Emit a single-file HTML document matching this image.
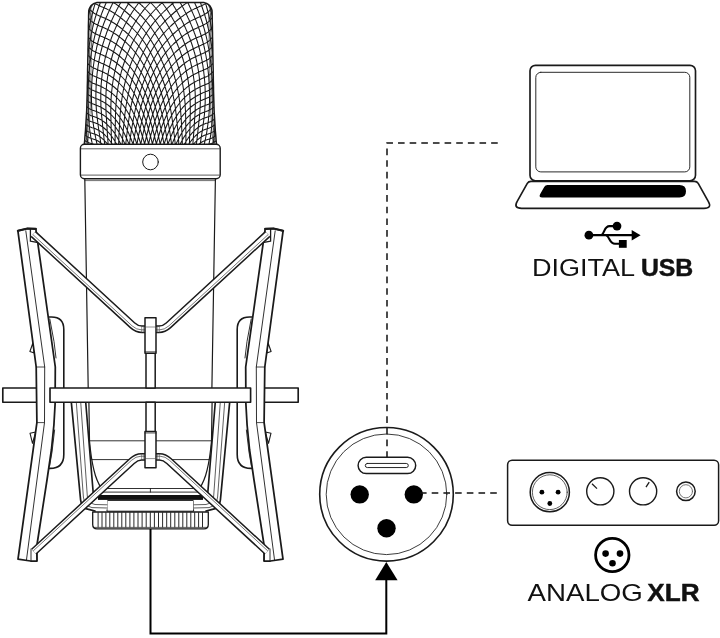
<!DOCTYPE html>
<html><head><meta charset="utf-8"><title>Mic connection diagram</title>
<style>html,body{margin:0;padding:0;background:#fff}body{width:720px;height:638px;overflow:hidden;font-family:"Liberation Sans",sans-serif}svg{display:block}</style></head><body>
<svg width="720" height="638" viewBox="0 0 720 638" fill="none" stroke="#1a1a1a" stroke-linecap="round" stroke-linejoin="round">
<rect x="0" y="0" width="720" height="638" fill="#fff" stroke="none"/>
<defs><clipPath id="hc"><path d="M84.3 144.0 84.7 140.6 84.9 137.3 85.2 133.9 85.5 130.5 85.7 127.1 85.9 123.8 86.1 120.4 86.3 117.0 86.5 113.7 86.7 110.3 86.8 106.9 86.9 103.5 87.0 100.2 87.1 96.8 87.2 93.4 87.3 90.1 87.3 86.7 87.4 83.3 87.5 79.9 87.5 76.6 87.6 73.2 87.6 69.8 87.7 66.4 87.8 63.1 87.8 59.7 87.9 56.3 88.0 53.0 88.0 49.6 88.1 46.2 88.1 42.8 88.2 39.5 88.3 36.1 88.3 32.7 88.4 29.4 88.4 26.0 88.5 22.6 88.6 19.2 88.6 15.9 88.7 12.5 88.7 12.1 88.8 10.4 89.3 8.8 90.0 7.3 90.9 5.9 92.1 4.7 93.5 3.8 95.0 3.1 96.6 2.6 98.3 2.5 202.5 2.5 204.2 2.6 205.8 3.1 207.3 3.8 208.7 4.7 209.9 5.9 210.8 7.3 211.5 8.8 212.0 10.4 212.1 12.1 212.1 12.5 212.2 15.9 212.2 19.2 212.3 22.6 212.4 26.0 212.4 29.4 212.5 32.7 212.5 36.1 212.6 39.5 212.7 42.8 212.7 46.2 212.8 49.6 212.8 53.0 212.9 56.3 213.0 59.7 213.0 63.1 213.1 66.4 213.2 69.8 213.2 73.2 213.3 76.6 213.3 79.9 213.4 83.3 213.5 86.7 213.5 90.1 213.6 93.4 213.7 96.8 213.8 100.2 213.9 103.5 214.0 106.9 214.1 110.3 214.3 113.7 214.5 117.0 214.7 120.4 214.9 123.8 215.1 127.1 215.3 130.5 215.6 133.9 215.9 137.3 216.1 140.6 216.5 144.0Z"/></clipPath></defs>
<g clip-path="url(#hc)"><path d="M87.3 7.5 87.6 6.0 88.0 4.3 88.4 2.5 88.7 1.0M87.0 23.4 87.4 21.5 87.7 20.0 88.0 18.4 88.4 16.5 88.7 15.0 89.0 13.5 89.5 11.5 89.8 10.0 90.1 8.5 90.5 7.0 91.0 5.0 91.3 3.5 91.7 2.0 92.0 0.8M86.7 42.0 87.0 40.1 87.3 38.5 87.5 37.0 87.9 35.0 88.1 33.5 88.5 31.6 88.8 30.0 89.1 28.5 89.5 26.5 89.8 25.0 90.1 23.5 90.5 21.5 90.8 20.0 91.2 18.5 91.5 17.0 92.0 15.0 92.4 13.5 92.7 12.0 93.1 10.5 93.5 9.0 94.0 7.4 94.5 5.7 95.0 4.0 95.5 2.5 96.0 1.0 96.0 0.9M84.5 145.3 84.7 143.5 84.4 142.0 84.2 140.0 84.0 138.4 83.8 136.5 83.6 135.0M87.9 145.0 88.0 143.5 87.7 142.0 87.5 140.5 87.2 138.5 87.0 136.8 86.8 135.0 86.6 133.0 86.4 131.5 86.3 129.5 86.1 127.5 86.0 126.0 85.8 124.0 85.7 122.0 85.6 120.0 85.5 118.5 85.4 116.5 85.3 114.5 85.2 112.5 85.1 110.5 85.0 108.5 85.0 106.5 85.0 105.0 85.0 103.0 84.9 101.0 84.9 99.0 84.9 97.0 85.0 95.0 85.0 93.0 85.0 91.5 85.1 89.5 85.1 87.5 85.2 85.5 85.3 83.5 85.4 81.5 85.5 79.5 85.6 78.0 85.7 76.0 85.9 74.0 86.0 72.3 86.2 70.5 86.3 68.5 86.5 66.7 86.7 65.0 86.9 63.0 87.1 61.5 87.3 59.5 87.5 57.7 87.7 56.0 88.0 54.0 88.2 52.5 88.5 50.5 88.7 49.0 89.0 47.0 89.2 45.5 89.5 43.7 89.8 42.0 90.1 40.5 90.4 38.5 90.7 37.0 91.0 35.4 91.4 33.5 91.7 32.0 92.0 30.5 92.5 28.5 92.8 27.0 93.2 25.5 93.5 24.0 94.0 22.2 94.5 20.5 94.9 19.0 95.3 17.5 95.8 16.0 96.2 14.5 96.7 13.0 97.2 11.5 97.7 10.0 98.2 8.5 98.7 7.0 99.3 5.5 99.8 4.0 100.4 2.5 101.0 1.0 101.0 0.9M92.2 145.0 92.1 143.0 91.8 141.5 91.4 140.0 91.0 138.0 90.7 136.5 90.5 135.0 90.2 133.0 90.0 131.5 89.7 129.5 89.5 127.7 89.3 126.0 89.1 124.0 89.0 122.4 88.8 120.5 88.7 118.5 88.5 116.5 88.4 115.0 88.3 113.0 88.2 111.0 88.2 109.0 88.1 107.0 88.1 105.0 88.0 103.0 88.0 101.0 88.0 99.0 88.0 97.0 88.0 95.0 88.1 93.0 88.1 91.0 88.1 89.0 88.2 87.0 88.3 85.0 88.4 83.0 88.5 81.0 88.6 79.5 88.7 77.5 88.8 75.5 89.0 73.5 89.1 72.0 89.3 70.0 89.5 68.0 89.6 66.5 89.9 64.5 90.0 63.0 90.3 61.0 90.5 59.3 90.7 57.5 91.0 55.7 91.2 54.0 91.5 52.4 91.8 50.5 92.1 49.0 92.4 47.0 92.7 45.5 93.0 44.0 93.4 42.0 93.7 40.5 94.1 39.0 94.5 37.1 94.9 35.5 95.3 34.0 95.7 32.5 96.1 31.0 96.5 29.4 97.0 27.7 97.5 26.0 97.9 24.5 98.4 23.0 98.9 21.5 99.4 20.0 99.9 18.5 100.4 17.0 101.0 15.5 101.5 14.1 102.0 12.8 102.5 11.5 103.1 10.0 103.7 8.5 104.4 7.0 105.0 5.5 105.5 4.3 106.1 3.0 106.8 1.5 107.0 1.0M96.8 145.0 97.0 143.9 96.5 142.0 96.2 140.5 95.9 139.0 95.5 137.2 95.2 135.5 94.9 134.0 94.5 132.0 94.3 130.5 94.0 128.9 93.7 127.0 93.5 125.5 93.2 123.5 93.0 121.8 92.8 120.0 92.5 118.0 92.4 116.5 92.2 114.5 92.0 112.5 91.9 111.0 91.8 109.0 91.7 107.0 91.6 105.0 91.6 103.0 91.5 101.0 91.5 99.4 91.5 97.5 91.5 95.5 91.5 94.0 91.5 92.0 91.6 90.0 91.6 88.0 91.7 86.0 91.8 84.0 91.9 82.0 92.0 80.5 92.1 78.5 92.3 76.5 92.5 74.5 92.6 73.0 92.8 71.0 93.0 69.5 93.2 67.5 93.5 65.5 93.7 64.0 94.0 62.0 94.2 60.5 94.5 58.8 94.8 57.0 95.1 55.5 95.4 53.5 95.7 52.0 96.1 50.5 96.5 48.5 96.8 47.0 97.2 45.5 97.5 44.0 98.0 42.0 98.4 40.5 98.8 39.0 99.2 37.5 99.6 36.0 100.1 34.5 100.6 33.0 101.0 31.5 101.5 30.0 102.0 28.5 102.5 27.0 103.1 25.5 103.6 24.0 104.2 22.5 104.8 21.0 105.4 19.5 106.0 18.0 106.5 16.8 107.1 15.5 107.7 14.0 108.4 12.5 109.0 11.1 109.5 10.0 110.2 8.5 110.9 7.0 111.5 5.8 112.1 4.5 112.9 3.0 113.5 1.8 114.0 0.8M100.8 145.0 101.0 143.8 100.6 142.0 100.4 140.5 100.1 138.5 99.9 137.0 99.6 135.0 99.3 133.5 99.0 131.5 98.8 130.0 98.5 128.0 98.3 126.5 98.0 124.5 97.9 123.0 97.6 121.0 97.4 119.5 97.1 117.5 97.0 116.0 96.8 114.0 96.6 112.0 96.5 110.5 96.3 108.5 96.2 106.5 96.1 104.5 96.0 102.5 96.0 101.0 95.9 99.0 95.9 97.0 95.9 95.0 95.9 93.0 96.0 91.0 96.0 89.3 96.1 87.5 96.1 85.5 96.3 83.5 96.4 81.5 96.5 79.9 96.7 78.0 96.9 76.0 97.0 74.5 97.2 72.5 97.5 70.5 97.7 69.0 98.0 67.0 98.2 65.5 98.5 63.6 98.8 62.0 99.0 60.5 99.4 58.5 99.7 57.0 100.0 55.5 100.5 53.5 100.8 52.0 101.2 50.5 101.6 49.0 102.0 47.4 102.5 45.6 102.9 44.0 103.4 42.5 103.9 41.0 104.3 39.5 104.8 38.0 105.3 36.5 105.9 35.0 106.4 33.5 106.9 32.0 107.5 30.5 108.0 29.2 108.5 28.0 109.1 26.5 109.7 25.0 110.4 23.5 111.0 22.0 111.5 20.9 112.1 19.5 112.8 18.0 113.5 16.5 114.0 15.4 114.7 14.0 115.4 12.5 116.0 11.4 116.7 10.0 117.5 8.5 118.0 7.5 118.8 6.0 119.5 4.7 120.2 3.5 121.0 2.0 121.5 1.0M104.5 145.0 104.6 143.5 104.4 142.0 104.2 140.0 104.0 138.5 103.8 136.5 103.6 134.5 103.4 133.0 103.2 131.0 103.0 129.3 102.8 127.5 102.6 125.5 102.5 124.0 102.3 122.0 102.1 120.0 101.9 118.5 101.7 116.5 101.5 114.5 101.4 113.0 101.3 111.0 101.1 109.0 101.0 107.0 100.9 105.5 100.9 103.5 100.8 101.5 100.8 99.5 100.8 97.5 100.8 95.5 100.8 93.5 100.8 91.5 100.9 89.5 101.0 87.7 101.1 86.0 101.2 84.0 101.4 82.0 101.5 80.5 101.7 78.5 102.0 76.5 102.1 75.0 102.4 73.0 102.6 71.5 102.9 69.5 103.2 68.0 103.5 66.2 103.8 64.5 104.1 63.0 104.5 61.3 104.9 59.5 105.2 58.0 105.6 56.5 106.0 55.0 106.5 53.1 107.0 51.5 107.4 50.0 107.8 48.5 108.3 47.0 108.8 45.5 109.3 44.0 109.8 42.5 110.3 41.0 110.9 39.5 111.4 38.0 112.0 36.5 112.5 35.2 113.0 34.0 113.6 32.5 114.2 31.0 114.9 29.5 115.5 28.1 116.0 27.0 116.7 25.5 117.4 24.0 118.0 22.7 118.6 21.5 119.3 20.0 120.0 18.6 120.6 17.5 121.4 16.0 122.0 14.8 122.7 13.5 123.5 12.1 124.1 11.0 125.0 9.5 125.6 8.5 126.5 7.0 127.1 6.0 128.0 4.5 128.6 3.5 129.5 2.0 130.2 1.0M108.0 145.1 108.1 143.5 108.0 142.0 107.8 140.0 107.7 138.0 107.6 136.0 107.4 134.5 107.3 132.5 107.2 130.5 107.1 128.5 107.0 127.0 106.8 125.0 106.7 123.0 106.6 121.0 106.5 119.5 106.4 117.5 106.2 115.5 106.1 113.5 106.0 111.5 106.0 110.0 105.9 108.0 105.9 106.0 105.8 104.0 105.8 102.0 105.8 100.0 105.9 98.0 105.9 96.0 106.0 94.0 106.0 92.5 106.2 90.5 106.3 88.5 106.5 86.5 106.6 85.0 106.8 83.0 107.0 81.5 107.3 79.5 107.5 77.7 107.8 76.0 108.0 74.5 108.3 72.5 108.6 71.0 109.0 69.1 109.3 67.5 109.7 66.0 110.0 64.5 110.5 62.5 110.9 61.0 111.3 59.5 111.7 58.0 112.1 56.5 112.5 55.0 113.0 53.5 113.5 51.9 114.0 50.4 114.5 48.9 115.0 47.5 115.5 46.0 116.1 44.5 116.7 43.0 117.2 41.5 117.8 40.0 118.5 38.5 119.0 37.3 119.5 36.0 120.2 34.5 120.9 33.0 121.5 31.7 122.1 30.5 122.8 29.0 123.5 27.6 124.1 26.5 124.8 25.0 125.5 23.8 126.2 22.5 127.0 21.0 127.6 20.0 128.4 18.5 129.0 17.5 129.9 16.0 130.5 15.0 131.4 13.5 132.0 12.5 133.0 11.0 133.7 10.0 134.5 8.7 135.3 7.5 136.0 6.5 137.0 5.2 137.8 4.0 138.6 3.0 139.5 1.8 140.5 0.6M111.5 145.1 111.6 143.5 111.5 141.5 111.5 140.0 111.4 138.0 111.3 136.0 111.3 134.0 111.2 132.0 111.2 130.0 111.1 128.0 111.1 126.0 111.1 124.0 111.0 122.0 111.0 120.5 110.9 118.5 110.9 116.5 110.8 114.5 110.8 112.5 110.8 110.5 110.8 108.5 110.9 106.5 110.9 104.5 111.0 102.5 111.0 101.0 111.1 99.0 111.2 97.0 111.4 95.0 111.5 93.4 111.7 91.5 111.9 89.5 112.1 88.0 112.3 86.0 112.5 84.5 112.8 82.5 113.0 81.0 113.4 79.0 113.6 77.5 114.0 75.6 114.3 74.0 114.6 72.5 115.0 70.9 115.4 69.0 115.8 67.5 116.2 66.0 116.6 64.5 117.0 63.0 117.5 61.4 118.0 59.7 118.5 58.2 119.0 56.6 119.5 55.2 120.0 53.7 120.5 52.3 121.0 51.0 121.6 49.5 122.2 48.0 122.8 46.5 123.4 45.0 124.0 43.6 124.5 42.5 125.2 41.0 125.8 39.5 126.5 38.1 127.0 37.0 127.8 35.5 128.5 34.1 129.1 33.0 129.9 31.5 130.5 30.3 131.2 29.0 132.0 27.6 132.6 26.5 133.5 25.0 134.1 24.0 135.0 22.5 135.6 21.5 136.5 20.1 137.2 19.0 138.0 17.8 138.9 16.5 139.6 15.5 140.5 14.2 141.4 13.0 142.2 12.0 143.0 10.9 144.0 9.6 144.9 8.5 145.8 7.5 146.7 6.5 147.6 5.5 148.5 4.5 149.5 3.5 150.5 2.5 151.5 1.5 152.5 0.6M115.0 145.0 115.1 143.5 115.1 141.5 115.1 139.5 115.1 137.5 115.1 135.5 115.1 133.5 115.2 131.5 115.2 129.5 115.2 127.5 115.3 125.5 115.3 123.5 115.4 121.5 115.4 119.5 115.4 117.5 115.5 115.5 115.5 114.0 115.6 112.0 115.7 110.0 115.8 108.0 115.9 106.0 116.0 104.5 116.2 102.5 116.3 100.5 116.5 98.7 116.7 97.0 116.9 95.0 117.1 93.5 117.4 91.5 117.6 90.0 117.9 88.0 118.1 86.5 118.5 84.5 118.8 83.0 119.1 81.5 119.5 79.5 119.8 78.0 120.2 76.5 120.5 75.0 121.0 73.2 121.4 71.5 121.9 70.0 122.3 68.5 122.7 67.0 123.2 65.5 123.7 64.0 124.2 62.5 124.7 61.0 125.2 59.5 125.8 58.0 126.4 56.5 126.9 55.0 127.5 53.6 128.0 52.4 128.6 51.0 129.3 49.5 129.9 48.0 130.5 46.8 131.1 45.5 131.8 44.0 132.5 42.6 133.0 41.5 133.8 40.0 134.5 38.7 135.1 37.5 136.0 36.0 136.5 35.0 137.4 33.5 138.0 32.4 138.9 31.0 139.5 29.9 140.4 28.5 141.0 27.5 142.0 26.0 142.7 25.0 143.5 23.8 144.4 22.5 145.1 21.5 146.0 20.3 146.9 19.0 147.7 18.0 148.5 17.0 149.5 15.8 150.5 14.6 151.5 13.5 152.4 12.5 153.3 11.5 154.2 10.5 155.1 9.5 156.1 8.5 157.1 7.5 158.1 6.5 159.1 5.5 160.2 4.5 161.2 3.5 162.3 2.5 163.3 1.5 164.0 0.9M118.5 145.0 118.7 143.5 118.7 141.5 118.8 139.5 118.9 137.5 118.9 135.5 119.0 134.0 119.1 132.0 119.2 130.0 119.3 128.0 119.5 126.0 119.6 124.5 119.7 122.5 119.8 120.5 119.9 118.5 120.0 117.0 120.1 115.0 120.3 113.0 120.5 111.0 120.6 109.5 120.8 107.5 121.0 105.7 121.2 104.0 121.4 102.0 121.7 100.5 121.9 98.5 122.2 97.0 122.5 95.0 122.8 93.5 123.0 92.0 123.4 90.0 123.7 88.5 124.0 87.0 124.5 85.0 124.8 83.5 125.2 82.0 125.6 80.5 126.0 78.9 126.5 77.1 126.9 75.5 127.4 74.0 127.9 72.5 128.3 71.0 128.8 69.5 129.4 68.0 129.9 66.5 130.4 65.0 131.0 63.5 131.5 62.2 132.0 60.9 132.6 59.5 133.2 58.0 133.9 56.5 134.5 55.0 135.0 53.9 135.7 52.5 136.4 51.0 137.0 49.7 137.6 48.5 138.4 47.0 139.0 45.7 139.7 44.5 140.5 43.0 141.0 42.0 141.9 40.5 142.5 39.4 143.3 38.0 144.0 36.8 144.8 35.5 145.5 34.4 146.4 33.0 147.0 32.0 148.0 30.5 148.7 29.5 149.5 28.4 150.5 27.0 151.2 26.0 152.0 24.9 153.0 23.6 153.9 22.5 154.7 21.5 155.6 20.5 156.5 19.4 157.5 18.3 158.5 17.2 159.5 16.1 160.5 15.1 161.5 14.0 162.5 13.0 163.5 12.0 164.5 11.0 165.5 10.1 166.5 9.1 167.5 8.2 168.5 7.2 169.5 6.3 170.5 5.4 171.5 4.5 172.7 3.5 173.8 2.5 175.0 1.5 176.0 0.6M122.0 145.2 122.2 143.5 122.3 141.5 122.5 139.5 122.6 138.0 122.8 136.0 122.9 134.0 123.1 132.5 123.2 130.5 123.4 128.5 123.6 127.0 123.8 125.0 124.0 123.1 124.1 121.5 124.3 119.5 124.5 117.9 124.7 116.0 124.9 114.0 125.1 112.5 125.4 110.5 125.6 109.0 125.9 107.0 126.1 105.5 126.5 103.5 126.7 102.0 127.0 100.4 127.4 98.5 127.7 97.0 128.0 95.4 128.4 93.5 128.8 92.0 129.1 90.5 129.5 89.0 130.0 87.0 130.4 85.5 130.8 84.0 131.3 82.5 131.7 81.0 132.2 79.5 132.7 78.0 133.2 76.5 133.7 75.0 134.2 73.5 134.7 72.0 135.3 70.5 135.9 69.0 136.5 67.5 137.0 66.1 137.5 64.9 138.1 63.5 138.7 62.0 139.4 60.5 140.0 59.2 140.6 58.0 141.3 56.5 142.0 55.0 142.5 54.0 143.2 52.5 144.0 51.0 144.5 50.0 145.3 48.5 146.0 47.3 146.7 46.0 147.5 44.6 148.1 43.5 149.0 42.0 149.6 41.0 150.5 39.5 151.2 38.5 152.0 37.2 152.8 36.0 153.5 35.0 154.5 33.6 155.3 32.5 156.1 31.5 157.0 30.3 158.0 29.1 158.9 28.0 159.7 27.0 160.6 26.0 161.5 25.0 162.5 23.9 163.5 22.8 164.5 21.7 165.5 20.7 166.5 19.7 167.5 18.7 168.5 17.8 169.5 16.8 170.5 15.9 171.5 15.0 172.6 14.0 173.7 13.0 174.8 12.0 176.0 11.0 177.0 10.2 178.0 9.3 179.0 8.5 180.3 7.5 181.5 6.6 182.5 5.9 183.7 5.0 185.0 4.1 186.0 3.4 187.4 2.5 188.5 1.8 189.9 1.0 190.5 0.7M125.7 145.0 125.9 143.0 126.0 141.5 126.3 139.5 126.5 137.5 126.7 136.0 126.9 134.0 127.1 132.5 127.3 130.5 127.5 129.0 127.8 127.0 128.0 125.5 128.3 123.5 128.5 121.9 128.8 120.0 129.0 118.3 129.3 116.5 129.5 115.0 129.8 113.0 130.1 111.5 130.4 109.5 130.7 108.0 131.0 106.5 131.4 104.5 131.7 103.0 132.1 101.5 132.5 99.7 132.9 98.0 133.3 96.5 133.7 95.0 134.1 93.5 134.5 91.9 135.0 90.1 135.5 88.5 135.9 87.0 136.4 85.5 136.9 84.0 137.4 82.5 137.9 81.0 138.4 79.5 139.0 78.0 139.5 76.6 140.0 75.3 140.5 74.0 141.1 72.5 141.7 71.0 142.3 69.5 143.0 68.0 143.5 66.8 144.1 65.5 144.7 64.0 145.4 62.5 146.0 61.3 146.6 60.0 147.4 58.5 148.0 57.2 148.6 56.0 149.4 54.5 150.0 53.3 150.7 52.0 151.5 50.6 152.1 49.5 153.0 48.0 153.6 47.0 154.5 45.6 155.2 44.5 156.0 43.4 156.9 42.0 157.7 41.0 158.5 39.8 159.5 38.5 160.3 37.5 161.1 36.5 162.0 35.4 163.0 34.2 164.0 33.1 165.0 32.0 165.9 31.0 166.8 30.0 167.8 29.0 168.8 28.0 169.8 27.0 170.8 26.0 171.9 25.0 173.0 24.0 174.0 23.1 175.0 22.2 176.0 21.3 177.0 20.5 178.2 19.5 179.5 18.5 180.5 17.7 181.5 16.9 182.8 16.0 184.0 15.1 185.0 14.4 186.4 13.5 187.5 12.8 188.7 12.0 190.0 11.2 191.3 10.5 192.5 9.9 194.0 9.1 195.4 8.5 196.5 8.0 198.0 7.3 199.5 6.6 200.8 6.0 202.0 5.4 203.5 4.7 204.8 4.0 206.0 3.3 207.0 2.5 208.2 1.5 209.0 0.7M129.3 145.0 129.6 143.5 129.8 141.5 130.0 140.0 130.3 138.0 130.5 136.5 130.8 134.5 131.0 133.0 131.3 131.0 131.6 129.5 131.9 127.5 132.2 126.0 132.5 124.2 132.8 122.5 133.1 121.0 133.4 119.0 133.7 117.5 134.0 115.9 134.4 114.0 134.7 112.5 135.0 111.0 135.4 109.0 135.8 107.5 136.2 106.0 136.5 104.5 137.0 102.6 137.4 101.0 137.8 99.5 138.3 98.0 138.7 96.5 139.1 95.0 139.6 93.5 140.1 92.0 140.6 90.5 141.1 89.0 141.6 87.5 142.1 86.0 142.6 84.5 143.2 83.0 143.7 81.5 144.3 80.0 144.9 78.5 145.5 77.0 146.0 75.8 146.5 74.5 147.2 73.0 147.8 71.5 148.5 70.0 149.0 68.8 149.6 67.5 150.3 66.0 151.0 64.5 151.5 63.5 152.3 62.0 153.0 60.6 153.6 59.5 154.4 58.0 155.0 57.0 155.9 55.5 156.5 54.5 157.4 53.0 158.1 52.0 159.0 50.6 159.8 49.5 160.5 48.5 161.5 47.1 162.4 46.0 163.2 45.0 164.0 44.0 165.0 42.7 166.0 41.6 167.0 40.5 167.9 39.5 168.8 38.5 169.8 37.5 170.7 36.5 171.7 35.5 172.8 34.5 173.9 33.5 175.0 32.5 176.0 31.6 177.0 30.7 178.0 29.9 179.1 29.0 180.3 28.0 181.5 27.1 182.5 26.4 183.7 25.5 185.0 24.6 186.0 23.9 187.4 23.0 188.5 22.3 189.9 21.5 191.0 20.9 192.5 20.1 193.7 19.5 195.0 18.9 196.5 18.2 198.0 17.5 199.2 17.0 200.5 16.4 202.0 15.7 203.4 15.0 204.5 14.4 206.0 13.5 207.0 12.8 208.0 12.0 209.0 11.0 210.0 10.0 211.0 8.8 212.0 7.6 213.0 6.5 213.4 6.0M133.0 145.3 133.3 143.5 133.5 142.0 133.9 140.0 134.1 138.5 134.5 136.5 134.7 135.0 135.0 133.4 135.4 131.5 135.6 130.0 136.0 128.2 136.3 126.5 136.6 125.0 137.0 123.3 137.4 121.5 137.7 120.0 138.0 118.5 138.5 116.5 138.8 115.0 139.2 113.5 139.5 112.0 140.0 110.2 140.4 108.5 140.8 107.0 141.3 105.5 141.7 104.0 142.1 102.5 142.6 101.0 143.0 99.5 143.5 98.0 144.0 96.5 144.5 95.0 145.0 93.5 145.5 92.0 146.1 90.5 146.6 89.0 147.2 87.5 147.7 86.0 148.3 84.5 148.9 83.0 149.5 81.5 150.0 80.2 150.5 79.0 151.1 77.5 151.8 76.0 152.5 74.5 153.0 73.4 153.7 72.0 154.4 70.5 155.0 69.3 155.7 68.0 156.5 66.5 157.1 65.5 157.9 64.0 158.5 63.0 159.5 61.5 160.1 60.5 161.0 59.1 161.8 58.0 162.5 56.9 163.5 55.5 164.3 54.5 165.0 53.5 166.0 52.3 167.0 51.1 167.9 50.0 168.8 49.0 169.7 48.0 170.6 47.0 171.5 46.0 172.5 45.0 173.5 44.0 174.6 43.0 175.7 42.0 176.8 41.0 177.9 40.0 179.0 39.1 180.0 38.3 181.0 37.5 182.3 36.5 183.5 35.6 184.5 34.9 185.8 34.0 187.0 33.2 188.2 32.5 189.5 31.7 190.7 31.0 192.0 30.3 193.5 29.6 194.7 29.0 196.0 28.4 197.5 27.7 199.0 27.1 200.3 26.5 201.5 25.9 203.0 25.2 204.4 24.5 205.5 23.9 206.9 23.0 208.0 22.2 209.0 21.3 210.0 20.2 211.0 19.1 211.9 18.0 212.8 17.0 213.5 16.2M136.8 145.0 137.1 143.5 137.5 141.5 137.7 140.0 138.0 138.5 138.4 136.5 138.7 135.0 139.0 133.5 139.5 131.5 139.8 130.0 140.1 128.5 140.5 126.8 140.9 125.0 141.3 123.5 141.6 122.0 142.0 120.5 142.5 118.5 142.9 117.0 143.3 115.5 143.7 114.0 144.1 112.5 144.5 111.0 145.0 109.3 145.5 107.7 146.0 106.0 146.5 104.5 147.0 103.0 147.5 101.5 148.0 100.0 148.5 98.5 149.0 97.0 149.5 95.5 150.0 94.2 150.5 92.8 151.0 91.5 151.6 90.0 152.2 88.5 152.8 87.0 153.4 85.5 154.0 84.1 154.5 83.0 155.2 81.5 155.9 80.0 156.5 78.7 157.1 77.5 157.9 76.0 158.5 74.9 159.3 73.5 160.0 72.2 160.7 71.0 161.5 69.7 162.2 68.5 163.0 67.3 163.9 66.0 164.6 65.0 165.5 63.7 166.4 62.5 167.1 61.5 168.0 60.4 169.0 59.2 170.0 58.0 170.8 57.0 171.7 56.0 172.7 55.0 173.6 54.0 174.6 53.0 175.6 52.0 176.7 51.0 177.8 50.0 179.0 49.0 180.0 48.1 181.0 47.3 182.0 46.5 183.3 45.5 184.5 44.7 185.5 44.0 186.9 43.0 188.0 42.3 189.4 41.5 190.5 40.8 192.0 40.0 193.0 39.5 194.5 38.8 196.0 38.1 197.4 37.5 198.5 37.0 200.0 36.4 201.5 35.7 202.9 35.0 204.0 34.5 205.5 33.7 206.7 33.0 208.0 32.1 209.0 31.2 210.0 30.2 211.0 29.1 212.0 28.0 212.9 27.0 213.8 26.0M140.6 145.0 141.0 143.2 141.4 141.5 141.7 140.0 142.0 138.5 142.4 136.5 142.8 135.0 143.1 133.5 143.5 131.8 143.9 130.0 144.3 128.5 144.7 127.0 145.1 125.5 145.5 123.8 146.0 122.0 146.4 120.5 146.8 119.0 147.2 117.5 147.7 116.0 148.1 114.5 148.6 113.0 149.0 111.5 149.5 110.0 150.0 108.5 150.5 106.9 151.0 105.4 151.5 104.0 152.0 102.5 152.6 101.0 153.1 99.5 153.7 98.0 154.3 96.5 154.9 95.0 155.5 93.5 156.0 92.3 156.6 91.0 157.2 89.5 157.9 88.0 158.5 86.8 159.2 85.5 159.9 84.0 160.5 82.9 161.3 81.5 162.0 80.2 162.7 79.0 163.5 77.6 164.2 76.5 165.0 75.2 165.8 74.0 166.5 73.0 167.5 71.5 168.3 70.5 169.0 69.5 170.0 68.2 171.0 67.0 171.8 66.0 172.7 65.0 173.6 64.0 174.5 63.0 175.5 62.0 176.5 61.0 177.5 60.0 178.6 59.0 179.7 58.0 180.9 57.0 182.0 56.1 183.0 55.3 184.0 54.5 185.4 53.5 186.5 52.7 187.6 52.0 189.0 51.1 190.1 50.5 191.5 49.7 192.8 49.0 194.0 48.4 195.5 47.7 197.0 47.0 198.2 46.5 199.5 45.9 201.0 45.3 202.5 44.6 203.8 44.0 205.0 43.4 206.5 42.6 207.5 42.0 208.8 41.0 209.8 40.0 210.8 39.0 211.7 38.0 212.7 37.0 213.6 36.0 214.0 35.6M144.5 145.0 144.8 143.5 145.1 142.0 145.5 140.5 146.0 138.5 146.3 137.0 146.7 135.5 147.1 134.0 147.5 132.3 148.0 130.5 148.4 129.0 148.8 127.5 149.2 126.0 149.6 124.5 150.0 123.0 150.5 121.4 151.0 119.8 151.5 118.1 152.0 116.5 152.5 115.0 153.0 113.5 153.5 112.0 154.0 110.5 154.5 109.1 155.0 107.7 155.5 106.4 156.0 105.0 156.6 103.5 157.2 102.0 157.8 100.5 158.5 99.0 159.0 97.8 159.6 96.5 160.3 95.0 161.0 93.5 161.5 92.5 162.3 91.0 163.0 89.6 163.6 88.5 164.5 87.0 165.0 86.0 165.9 84.5 166.6 83.5 167.5 82.0 168.2 81.0 169.0 79.8 169.9 78.5 170.7 77.5 171.5 76.4 172.5 75.2 173.4 74.0 174.3 73.0 175.2 72.0 176.1 71.0 177.1 70.0 178.0 69.0 179.1 68.0 180.2 67.0 181.3 66.0 182.4 65.0 183.5 64.1 184.5 63.4 185.7 62.5 187.0 61.5 188.0 60.9 189.4 60.0 190.5 59.3 191.9 58.5 193.0 57.9 194.5 57.2 195.9 56.5 197.0 56.0 198.5 55.4 200.0 54.7 201.5 54.0 202.7 53.5 204.0 52.9 205.5 52.2 206.8 51.5 208.0 50.8 209.0 50.0 210.1 49.0 211.1 48.0 212.1 47.0 213.0 46.0 214.0 45.0M148.3 145.0 148.7 143.5 149.1 142.0 149.5 140.2 149.9 138.5 150.3 137.0 150.7 135.5 151.1 134.0 151.6 132.5 152.0 130.9 152.5 129.2 153.0 127.5 153.4 126.0 153.9 124.5 154.4 123.0 154.8 121.5 155.3 120.0 155.8 118.5 156.4 117.0 156.9 115.5 157.4 114.0 158.0 112.5 158.5 111.2 159.0 110.0 159.6 108.5 160.2 107.0 160.9 105.5 161.5 104.1 162.0 103.0 162.7 101.5 163.4 100.0 164.0 98.8 164.7 97.5 165.5 96.0 166.0 95.0 166.9 93.5 167.5 92.5 168.4 91.0 169.0 90.0 170.0 88.5 170.7 87.5 171.5 86.3 172.5 85.0 173.2 84.0 174.0 83.0 175.0 81.8 176.0 80.6 177.0 79.5 177.9 78.5 178.8 77.5 179.8 76.5 180.9 75.5 181.9 74.5 183.0 73.6 184.0 72.7 185.0 71.9 186.2 71.0 187.5 70.0 188.5 69.4 189.8 68.5 191.0 67.8 192.3 67.0 193.5 66.4 195.0 65.6 196.2 65.0 197.5 64.4 199.0 63.7 200.5 63.1 201.8 62.5 203.0 62.0 204.5 61.3 206.0 60.6 207.2 60.0 208.5 59.2 209.5 58.4 210.5 57.5 211.6 56.5 212.5 55.5 213.5 54.5 214.0 54.0M152.2 145.0 152.6 143.5 153.0 141.9 153.5 140.0 153.9 138.5 154.3 137.0 154.8 135.5 155.2 134.0 155.7 132.5 156.1 131.0 156.6 129.5 157.1 128.0 157.6 126.5 158.1 125.0 158.6 123.5 159.1 122.0 159.6 120.5 160.2 119.0 160.8 117.5 161.4 116.0 162.0 114.5 162.5 113.3 163.1 112.0 163.7 110.5 164.4 109.0 165.0 107.8 165.6 106.5 166.4 105.0 167.0 103.8 167.7 102.5 168.5 101.1 169.1 100.0 170.0 98.5 170.6 97.5 171.5 96.1 172.3 95.0 173.0 93.9 174.0 92.5 174.8 91.5 175.5 90.5 176.5 89.3 177.5 88.1 178.4 87.0 179.3 86.0 180.3 85.0 181.3 84.0 182.3 83.0 183.4 82.0 184.5 81.0 185.5 80.2 186.5 79.4 187.6 78.5 189.0 77.5 190.0 76.9 191.3 76.0 192.5 75.3 193.9 74.5 195.0 73.9 196.5 73.2 197.9 72.5 199.0 72.0 200.5 71.3 202.0 70.7 203.5 70.0 204.7 69.5 206.0 68.9 207.5 68.2 208.6 67.5 209.9 66.5 211.0 65.6 212.0 64.6 213.0 63.6 214.0 62.7 214.5 62.2M156.0 145.1 156.5 143.5 156.9 142.0 157.3 140.5 157.8 139.0 158.2 137.5 158.7 136.0 159.2 134.5 159.6 133.0 160.1 131.5 160.6 130.0 161.2 128.5 161.7 127.0 162.2 125.5 162.8 124.0 163.4 122.5 164.0 121.0 164.5 119.8 165.1 118.5 165.7 117.0 166.4 115.5 167.0 114.3 167.6 113.0 168.4 111.5 169.0 110.3 169.7 109.0 170.5 107.6 171.1 106.5 172.0 105.0 172.6 104.0 173.5 102.7 174.3 101.5 175.0 100.4 176.0 99.0 176.8 98.0 177.6 97.0 178.5 95.8 179.5 94.6 180.5 93.5 181.4 92.5 182.4 91.5 183.4 90.5 184.4 89.5 185.5 88.6 186.5 87.7 187.5 86.9 188.6 86.0 190.0 85.0 191.0 84.3 192.3 83.5 193.5 82.8 194.9 82.0 196.0 81.4 197.5 80.6 198.8 80.0 200.0 79.4 201.5 78.7 203.0 78.1 204.4 77.5 205.6 77.0 207.0 76.4 208.5 75.6 209.5 74.9 210.6 74.0 211.8 73.0 212.9 72.0 213.9 71.0 214.5 70.5M159.9 145.0 160.4 143.5 160.8 142.0 161.3 140.5 161.8 139.0 162.3 137.5 162.8 136.0 163.3 134.5 163.8 133.0 164.4 131.5 164.9 130.0 165.5 128.5 166.0 127.2 166.5 126.0 167.1 124.5 167.8 123.0 168.5 121.5 169.0 120.3 169.7 119.0 170.4 117.5 171.0 116.4 171.8 115.0 172.5 113.7 173.2 112.5 174.0 111.1 174.7 110.0 175.5 108.8 176.4 107.5 177.1 106.5 178.0 105.2 178.9 104.0 179.7 103.0 180.5 102.0 181.5 100.9 182.5 99.7 183.5 98.7 184.5 97.7 185.5 96.7 186.5 95.8 187.5 94.9 188.6 94.0 189.9 93.0 191.0 92.2 192.0 91.5 193.5 90.5 194.5 89.9 196.0 89.0 197.0 88.5 198.5 87.7 199.9 87.0 201.0 86.5 202.5 85.8 204.0 85.2 205.5 84.6 206.9 84.0 208.0 83.5 209.5 82.6 210.5 81.8 211.5 81.0 212.7 80.0 213.8 79.0 214.5 78.4M163.8 145.0 164.3 143.5 164.8 142.0 165.3 140.5 165.8 139.0 166.4 137.5 166.9 136.0 167.5 134.5 168.0 133.2 168.5 132.0 169.1 130.5 169.8 129.0 170.4 127.5 171.0 126.2 171.6 125.0 172.3 123.5 173.0 122.1 173.6 121.0 174.4 119.5 175.0 118.5 175.9 117.0 176.6 116.0 177.5 114.6 178.2 113.5 179.0 112.4 180.0 111.0 180.8 110.0 181.6 109.0 182.5 107.9 183.5 106.7 184.5 105.6 185.5 104.6 186.5 103.6 187.5 102.6 188.5 101.7 189.5 100.9 190.6 100.0 191.9 99.0 193.0 98.3 194.1 97.5 195.5 96.6 196.6 96.0 198.0 95.2 199.4 94.5 200.5 93.9 202.0 93.2 203.5 92.6 204.9 92.0 206.2 91.5 207.5 91.0 209.0 90.2 210.1 89.5 211.5 88.5 212.5 87.6 213.5 86.8 214.5 85.9M167.7 145.0 168.2 143.5 168.8 142.0 169.4 140.5 170.0 139.0 170.5 137.6 171.0 136.4 171.6 135.0 172.2 133.5 172.9 132.0 173.5 130.7 174.1 129.5 174.8 128.0 175.5 126.7 176.1 125.5 177.0 124.0 177.5 123.0 178.5 121.5 179.1 120.5 180.0 119.2 180.9 118.0 181.6 117.0 182.5 115.8 183.5 114.6 184.4 113.5 185.3 112.5 186.2 111.5 187.1 110.5 188.1 109.5 189.2 108.5 190.3 107.5 191.5 106.5 192.5 105.8 193.5 105.0 195.0 104.0 196.0 103.3 197.4 102.5 198.5 101.9 200.0 101.1 201.2 100.5 202.5 99.9 204.0 99.3 205.5 98.7 207.0 98.1 208.4 97.5 209.5 96.9 210.9 96.0 212.0 95.2 213.0 94.4 214.1 93.5 215.0 92.8M171.6 145.5 172.0 144.0 172.7 142.5 173.3 141.0 173.9 139.5 174.5 138.2 175.1 137.0 175.8 135.5 176.5 134.0 177.0 133.0 177.8 131.5 178.5 130.1 179.1 129.0 180.0 127.5 180.6 126.5 181.5 125.1 182.2 124.0 183.0 122.9 184.0 121.6 184.8 120.5 185.7 119.5 186.5 118.5 187.5 117.4 188.5 116.4 189.5 115.4 190.5 114.4 191.5 113.5 192.7 112.5 194.0 111.5 195.0 110.8 196.1 110.0 197.5 109.1 198.5 108.5 200.0 107.7 201.4 107.0 202.5 106.5 204.0 105.9 205.5 105.3 207.0 104.8 208.5 104.2 209.8 103.5 211.0 102.8 212.0 102.0 213.3 101.0 214.5 100.1 215.0 99.7M175.7 145.0 176.3 143.5 177.0 142.1 177.5 141.0 178.2 139.5 179.0 138.0 179.5 137.0 180.3 135.5 181.0 134.2 181.7 133.0 182.5 131.7 183.2 130.5 184.0 129.3 184.9 128.0 185.6 127.0 186.5 125.9 187.5 124.6 188.4 123.5 189.3 122.5 190.3 121.5 191.3 120.5 192.4 119.5 193.5 118.5 194.5 117.7 195.5 116.9 196.8 116.0 198.0 115.2 199.2 114.5 200.5 113.8 202.0 113.1 203.3 112.5 204.5 112.0 206.0 111.5 207.5 110.9 209.0 110.3 210.5 109.6 211.5 108.9 212.8 108.0 214.0 107.1 215.0 106.3M179.9 145.0 180.5 143.5 181.0 142.5 181.8 141.0 182.5 139.7 183.2 138.5 184.0 137.1 184.7 136.0 185.5 134.7 186.3 133.5 187.0 132.5 188.0 131.2 188.9 130.0 189.8 129.0 190.6 128.0 191.5 127.0 192.5 126.0 193.5 125.0 194.6 124.0 195.8 123.0 197.0 122.1 198.0 121.4 199.4 120.5 200.5 119.9 202.0 119.1 203.4 118.5 204.7 118.0 206.1 117.5 207.6 117.0 209.0 116.5 210.5 115.8 211.8 115.0 213.0 114.1 214.0 113.4 215.3 112.5 215.5 112.3M184.0 145.3 184.5 143.9 185.4 142.5 186.0 141.5 186.9 140.0 187.6 139.0 188.5 137.6 189.3 136.5 190.1 135.5 191.0 134.4 192.0 133.2 193.0 132.1 194.0 131.0 195.0 130.1 196.0 129.2 197.0 128.3 198.0 127.5 199.5 126.5 200.5 125.8 202.0 125.0 203.1 124.5 204.5 123.9 206.0 123.3 207.5 122.9 209.0 122.3 210.5 121.7 211.7 121.0 213.0 120.2 214.0 119.5 215.4 118.5 216.0 118.1M188.5 145.0 189.0 143.8 190.0 142.5 190.7 141.5 191.5 140.4 192.5 139.1 193.5 138.0 194.4 137.0 195.3 136.0 196.4 135.0 197.5 134.0 198.5 133.2 199.5 132.4 200.9 131.5 202.0 130.9 203.5 130.1 205.0 129.5 206.4 129.0 207.9 128.5 209.3 128.0 210.5 127.5 212.0 126.7 213.1 126.0 214.5 125.0 215.5 124.3 216.0 124.0M193.2 145.0 194.0 143.6 195.0 142.5 195.9 141.5 196.9 140.5 197.9 139.5 199.0 138.6 200.0 137.8 201.2 137.0 202.5 136.2 204.0 135.5 205.2 135.0 206.6 134.5 208.1 134.0 209.6 133.5 211.0 132.9 212.5 132.1 213.5 131.5 215.0 130.5 216.0 129.8 216.5 129.5M198.5 145.3 199.2 144.0 200.5 143.0 201.5 142.3 202.9 141.5 204.0 140.9 205.5 140.3 207.0 139.7 208.5 139.3 210.0 138.8 211.5 138.2 212.8 137.5 214.0 136.8 215.2 136.0 216.5 135.1 217.0 134.8M207.5 145.5 208.9 144.5 210.0 143.9 211.5 143.4 213.0 142.8 214.3 142.0 215.5 141.3 216.7 140.5 217.5 140.0M94.5 145.1 93.5 144.3 92.0 143.7 90.5 143.3 89.0 142.8 87.5 142.2 86.3 141.5 85.0 140.7 83.9 140.0 83.5 139.7M102.6 145.0 102.0 143.9 100.8 143.0 99.5 142.0 98.5 141.3 97.0 140.5 96.0 140.0 94.5 139.4 93.0 138.9 91.5 138.5 90.0 138.0 88.5 137.3 87.0 136.5 86.0 135.9 84.6 135.0 83.8 134.5M108.0 145.3 107.5 144.0 106.5 142.9 105.5 141.8 104.5 140.7 103.5 139.7 102.5 138.8 101.5 137.9 100.3 137.0 99.0 136.1 97.9 135.5 96.5 134.8 95.0 134.2 93.5 133.7 92.0 133.2 90.5 132.7 89.0 132.1 87.9 131.5 86.5 130.6 85.5 130.0 84.5 129.3M112.6 145.0 112.0 143.7 111.1 142.5 110.4 141.5 109.5 140.3 108.5 139.0 107.7 138.0 106.8 137.0 105.9 136.0 104.9 135.0 103.8 134.0 102.7 133.0 101.5 132.1 100.5 131.4 99.1 130.5 98.0 129.9 96.5 129.2 95.0 128.6 93.5 128.1 92.0 127.7 90.5 127.1 89.2 126.5 88.0 125.8 86.7 125.0 85.5 124.2 84.5 123.5M117.0 145.2 116.5 143.8 115.6 142.5 115.0 141.4 114.2 140.0 113.5 139.0 112.5 137.5 111.8 136.5 111.0 135.5 110.0 134.2 109.0 133.0 108.1 132.0 107.2 131.0 106.2 130.0 105.1 129.0 104.0 128.0 103.0 127.2 102.0 126.5 100.5 125.5 99.5 124.9 98.0 124.1 96.6 123.5 95.4 123.0 93.9 122.5 92.3 122.0 90.9 121.5 89.5 120.9 88.0 120.0 87.0 119.3 85.8 118.5 85.0 118.0M121.1 145.0 120.5 143.5 120.0 142.5 119.2 141.0 118.5 139.7 117.8 138.5 117.0 137.0 116.4 136.0 115.5 134.6 114.8 133.5 114.0 132.4 113.0 131.0 112.2 130.0 111.4 129.0 110.5 127.9 109.5 126.8 108.5 125.8 107.5 124.8 106.5 123.8 105.5 123.0 104.3 122.0 103.0 121.1 102.0 120.4 100.5 119.5 99.5 119.0 98.0 118.2 96.5 117.6 95.0 117.1 93.5 116.6 92.0 116.1 90.6 115.5 89.5 114.9 88.0 114.0 87.0 113.3 85.9 112.5 85.2 112.0M125.3 145.0 124.7 143.5 124.0 142.1 123.5 141.0 122.8 139.5 122.1 138.0 121.5 136.9 120.8 135.5 120.0 134.1 119.4 133.0 118.5 131.5 117.9 130.5 117.0 129.2 116.2 128.0 115.5 127.0 114.5 125.7 113.6 124.5 112.8 123.5 111.9 122.5 111.0 121.5 110.0 120.5 108.9 119.5 107.8 118.5 106.6 117.5 105.5 116.6 104.5 115.9 103.2 115.0 102.0 114.2 100.7 113.5 99.5 112.9 98.0 112.2 96.5 111.6 95.0 111.0 93.5 110.5 92.1 110.0 90.9 109.5 89.5 108.7 88.4 108.0 87.0 107.0 86.0 106.2 85.5 105.9M129.3 145.0 128.8 143.5 128.1 142.0 127.5 140.5 127.0 139.3 126.4 138.0 125.7 136.5 125.0 135.0 124.5 133.9 123.8 132.5 123.0 131.0 122.5 130.0 121.6 128.5 121.0 127.4 120.2 126.0 119.5 124.9 118.5 123.5 117.8 122.5 117.0 121.4 116.0 120.1 115.1 119.0 114.2 118.0 113.3 117.0 112.4 116.0 111.4 115.0 110.3 114.0 109.2 113.0 108.0 112.0 107.0 111.2 106.0 110.4 104.7 109.5 103.5 108.7 102.3 108.0 101.0 107.3 99.5 106.6 98.3 106.0 97.0 105.5 95.5 104.9 94.0 104.3 92.5 103.8 91.0 103.1 89.9 102.5 88.5 101.6 87.5 100.8 86.5 100.0 85.8 99.5M133.3 145.0 132.8 143.5 132.2 142.0 131.6 140.5 131.1 139.0 130.5 137.6 130.0 136.4 129.4 135.0 128.8 133.5 128.1 132.0 127.5 130.7 127.0 129.5 126.2 128.0 125.5 126.6 124.9 125.5 124.1 124.0 123.5 122.9 122.6 121.5 122.0 120.5 121.0 119.0 120.3 118.0 119.5 116.9 118.5 115.6 117.6 114.5 116.8 113.5 116.0 112.5 115.0 111.4 114.0 110.4 113.0 109.4 112.0 108.4 111.0 107.5 109.8 106.5 108.6 105.5 107.5 104.7 106.5 104.0 105.0 103.0 104.0 102.4 102.5 101.5 101.5 101.0 100.0 100.2 98.5 99.5 97.3 99.0 96.0 98.5 94.5 97.9 93.0 97.3 91.5 96.7 90.3 96.0 89.0 95.1 88.0 94.3 87.0 93.5 86.0 92.7M137.2 145.0 136.7 143.5 136.2 142.0 135.7 140.5 135.2 139.0 134.6 137.5 134.1 136.0 133.5 134.5 133.0 133.2 132.5 131.9 131.9 130.5 131.3 129.0 130.6 127.5 130.0 126.1 129.5 125.0 128.8 123.5 128.0 122.0 127.5 121.0 126.6 119.5 126.0 118.4 125.2 117.0 124.5 115.9 123.6 114.5 122.9 113.5 122.0 112.2 121.2 111.0 120.4 110.0 119.5 108.8 118.5 107.6 117.5 106.5 116.7 105.5 115.7 104.5 114.7 103.5 113.7 102.5 112.6 101.5 111.5 100.6 110.5 99.7 109.5 99.0 108.2 98.0 107.0 97.2 105.9 96.5 104.5 95.7 103.3 95.0 102.0 94.3 100.5 93.5 99.4 93.0 98.0 92.4 96.5 91.8 95.0 91.2 93.5 90.6 92.1 90.0 91.0 89.4 89.6 88.5 88.5 87.6 87.5 86.8 86.5 86.0 85.9 85.5M141.1 145.0 140.6 143.5 140.2 142.0 139.7 140.5 139.2 139.0 138.7 137.5 138.2 136.0 137.7 134.5 137.2 133.0 136.6 131.5 136.1 130.0 135.5 128.5 135.0 127.2 134.5 125.9 133.9 124.5 133.3 123.0 132.6 121.5 132.0 120.2 131.4 119.0 130.6 117.5 130.0 116.3 129.3 115.0 128.5 113.5 127.9 112.5 127.0 111.0 126.4 110.0 125.5 108.6 124.8 107.5 124.0 106.4 123.0 105.0 122.3 104.0 121.5 103.0 120.5 101.8 119.5 100.6 118.5 99.5 117.6 98.5 116.7 97.5 115.6 96.5 114.6 95.5 113.5 94.6 112.5 93.7 111.5 92.9 110.3 92.0 109.0 91.1 108.0 90.5 106.5 89.5 105.5 88.9 104.0 88.1 102.9 87.5 101.5 86.8 100.0 86.1 98.6 85.5 97.5 85.0 96.0 84.4 94.5 83.8 93.0 83.2 91.7 82.5 90.5 81.8 89.5 81.0 88.3 80.0 87.1 79.0 86.0 78.0M145.0 145.1 144.5 143.5 144.1 142.0 143.7 140.5 143.2 139.0 142.8 137.5 142.3 136.0 141.8 134.5 141.4 133.0 140.9 131.5 140.4 130.0 139.8 128.5 139.3 127.0 138.8 125.5 138.2 124.0 137.6 122.5 137.0 121.0 136.5 119.7 136.0 118.5 135.3 117.0 134.6 115.5 134.0 114.1 133.4 113.0 132.7 111.5 132.0 110.1 131.4 109.0 130.6 107.5 130.0 106.5 129.1 105.0 128.5 104.0 127.5 102.5 126.9 101.5 126.0 100.2 125.1 99.0 124.4 98.0 123.5 96.8 122.5 95.6 121.6 94.5 120.8 93.5 119.9 92.5 118.9 91.5 117.9 90.5 116.9 89.5 115.8 88.5 114.7 87.5 113.5 86.5 112.5 85.7 111.5 85.0 110.1 84.0 109.0 83.3 107.7 82.5 106.5 81.8 105.0 81.0 104.0 80.5 102.5 79.7 101.0 79.0 99.8 78.5 98.5 77.9 97.0 77.3 95.5 76.7 94.0 76.1 92.8 75.5 91.5 74.8 90.4 74.0 89.1 73.0 88.0 72.0 87.0 71.1 86.3 70.5M148.8 145.0 148.4 143.5 148.0 141.9 147.5 140.0 147.1 138.5 146.7 137.0 146.2 135.5 145.8 134.0 145.3 132.5 144.9 131.0 144.4 129.5 143.9 128.0 143.5 126.5 143.0 125.0 142.4 123.5 141.9 122.0 141.4 120.5 140.8 119.0 140.2 117.5 139.7 116.0 139.0 114.5 138.5 113.2 138.0 112.0 137.3 110.5 136.6 109.0 136.0 107.6 135.5 106.5 134.7 105.0 134.0 103.6 133.4 102.5 132.6 101.0 132.0 100.0 131.1 98.5 130.5 97.5 129.5 96.0 128.9 95.0 128.0 93.7 127.2 92.5 126.4 91.5 125.5 90.3 124.5 89.0 123.7 88.0 122.8 87.0 121.9 86.0 121.0 85.0 120.0 84.0 119.0 83.0 118.0 82.0 116.9 81.0 115.7 80.0 114.5 79.0 113.5 78.2 112.5 77.5 111.0 76.5 110.0 75.8 108.6 75.0 107.5 74.3 106.0 73.5 104.9 73.0 103.5 72.3 102.0 71.6 100.6 71.0 99.4 70.5 98.0 69.9 96.5 69.3 95.0 68.6 93.6 68.0 92.5 67.4 91.1 66.5 90.0 65.7 89.0 64.8 88.0 63.8 87.0 62.9 86.5 62.4M152.7 145.0 152.3 143.5 151.9 142.0 151.5 140.2 151.1 138.5 150.7 137.0 150.3 135.5 149.9 134.0 149.4 132.5 149.0 130.9 148.5 129.2 148.0 127.5 147.6 126.0 147.1 124.5 146.6 123.0 146.2 121.5 145.7 120.0 145.2 118.5 144.6 117.0 144.1 115.5 143.6 114.0 143.0 112.5 142.5 111.2 142.0 109.9 141.4 108.5 140.8 107.0 140.2 105.5 139.5 104.0 139.0 102.8 138.4 101.5 137.7 100.0 137.0 98.7 136.4 97.5 135.6 96.0 135.0 94.9 134.2 93.5 133.5 92.3 132.7 91.0 132.0 89.8 131.1 88.5 130.5 87.5 129.5 86.1 128.7 85.0 128.0 84.0 127.0 82.7 126.0 81.5 125.2 80.5 124.3 79.5 123.4 78.5 122.5 77.5 121.5 76.5 120.5 75.5 119.4 74.5 118.3 73.5 117.1 72.5 116.0 71.6 115.0 70.8 113.9 70.0 112.5 69.0 111.5 68.3 110.1 67.5 109.0 66.8 107.5 66.0 106.5 65.5 105.0 64.7 103.5 64.1 102.2 63.5 101.0 63.0 99.5 62.3 98.0 61.7 96.5 61.1 95.2 60.5 94.0 59.9 92.5 59.1 91.5 58.5 90.3 57.5 89.2 56.5 88.2 55.5 87.2 54.5 86.5 53.8M156.5 145.0 156.2 143.5 155.9 142.0 155.5 140.5 155.0 138.5 154.7 137.0 154.3 135.5 153.9 134.0 153.5 132.3 153.0 130.5 152.6 129.0 152.2 127.5 151.8 126.0 151.4 124.5 151.0 123.0 150.5 121.4 150.0 119.8 149.5 118.1 149.0 116.5 148.5 115.0 148.0 113.5 147.5 112.0 147.0 110.5 146.5 109.1 146.0 107.7 145.5 106.3 145.0 105.0 144.4 103.5 143.8 102.0 143.2 100.5 142.6 99.0 142.0 97.7 141.5 96.5 140.8 95.0 140.1 93.5 139.5 92.4 138.8 91.0 138.0 89.5 137.5 88.5 136.6 87.0 136.0 85.9 135.2 84.5 134.5 83.4 133.6 82.0 133.0 81.0 132.0 79.6 131.2 78.5 130.5 77.5 129.5 76.2 128.6 75.0 127.8 74.0 126.9 73.0 126.0 71.9 125.0 70.8 124.0 69.8 123.0 68.8 122.0 67.8 121.0 66.8 120.0 65.9 118.9 65.0 117.7 64.0 116.5 63.0 115.5 62.3 114.4 61.5 113.0 60.5 112.0 59.9 110.5 59.0 109.5 58.4 108.0 57.6 106.8 57.0 105.5 56.4 104.0 55.7 102.5 55.0 101.2 54.5 100.0 54.0 98.5 53.3 97.0 52.7 95.5 52.0 94.4 51.5 93.0 50.7 91.9 50.0 90.7 49.0 89.6 48.0 88.6 47.0 87.6 46.0 86.6 45.0M160.4 145.0 160.0 143.3 159.6 141.5 159.3 140.0 159.0 138.5 158.6 136.5 158.2 135.0 157.9 133.5 157.5 131.8 157.1 130.0 156.7 128.5 156.3 127.0 155.9 125.5 155.5 123.8 155.0 122.0 154.6 120.5 154.2 119.0 153.8 117.5 153.3 116.0 152.9 114.5 152.4 113.0 152.0 111.5 151.5 110.0 151.0 108.4 150.5 106.9 150.0 105.4 149.5 104.0 149.0 102.5 148.5 101.0 147.9 99.5 147.3 98.0 146.8 96.5 146.2 95.0 145.5 93.5 145.0 92.2 144.5 91.0 143.8 89.5 143.1 88.0 142.5 86.7 141.9 85.5 141.1 84.0 140.5 82.8 139.8 81.5 139.0 80.0 138.4 79.0 137.5 77.5 136.9 76.5 136.0 75.0 135.3 74.0 134.5 72.8 133.6 71.5 132.9 70.5 132.0 69.3 131.0 68.0 130.2 67.0 129.4 66.0 128.5 65.0 127.5 63.9 126.5 62.8 125.5 61.7 124.5 60.7 123.5 59.7 122.5 58.8 121.5 57.9 120.5 57.0 119.3 56.0 118.0 55.0 117.0 54.2 116.0 53.5 114.6 52.5 113.5 51.8 112.3 51.0 111.0 50.2 109.7 49.5 108.5 48.8 107.0 48.1 105.7 47.5 104.5 46.9 103.0 46.3 101.5 45.7 100.0 45.0 98.7 44.5 97.5 44.0 96.0 43.3 94.5 42.5 93.5 42.0 92.0 41.0 91.0 40.1 90.0 39.2 89.0 38.1 88.0 37.1 87.0 36.0 87.0 36.0M164.2 145.0 163.9 143.5 163.5 141.5 163.2 140.0 163.0 138.5 162.6 136.5 162.3 135.0 162.0 133.5 161.5 131.5 161.2 130.0 160.9 128.5 160.5 126.8 160.1 125.0 159.7 123.5 159.4 122.0 159.0 120.4 158.5 118.5 158.1 117.0 157.7 115.5 157.3 114.0 156.9 112.5 156.5 111.0 156.0 109.3 155.5 107.6 155.0 106.0 154.5 104.5 154.1 103.0 153.6 101.5 153.1 100.0 152.5 98.5 152.0 97.0 151.5 95.5 151.0 94.1 150.5 92.8 150.0 91.5 149.4 90.0 148.9 88.5 148.2 87.0 147.6 85.5 147.0 84.1 146.5 82.9 145.9 81.5 145.2 80.0 144.5 78.7 143.9 77.5 143.2 76.0 142.5 74.8 141.8 73.5 141.0 72.1 140.4 71.0 139.5 69.5 138.9 68.5 138.0 67.1 137.2 66.0 136.5 64.9 135.5 63.5 134.8 62.5 134.0 61.5 133.0 60.2 132.0 59.0 131.2 58.0 130.3 57.0 129.4 56.0 128.5 55.0 127.5 53.9 126.5 52.9 125.5 51.9 124.5 51.0 123.4 50.0 122.3 49.0 121.1 48.0 120.0 47.1 119.0 46.3 118.0 45.5 116.6 44.5 115.5 43.7 114.4 43.0 113.0 42.1 112.0 41.5 110.5 40.6 109.4 40.0 108.0 39.3 106.5 38.5 105.3 38.0 104.0 37.4 102.5 36.8 101.0 36.2 99.5 35.5 98.3 35.0 97.0 34.4 95.5 33.7 94.2 33.0 93.0 32.2 92.0 31.5 90.9 30.5 89.9 29.5 89.0 28.5 88.0 27.4 87.0 26.3M168.0 145.4 167.7 143.5 167.5 142.0 167.1 140.0 166.9 138.5 166.5 136.5 166.3 135.0 166.0 133.4 165.7 131.5 165.4 130.0 165.0 128.1 164.7 126.5 164.4 125.0 164.0 123.2 163.6 121.5 163.3 120.0 163.0 118.4 162.6 116.5 162.2 115.0 161.9 113.5 161.5 112.0 161.0 110.1 160.6 108.5 160.2 107.0 159.8 105.5 159.3 104.0 158.9 102.5 158.5 101.0 158.0 99.5 157.5 97.9 157.0 96.4 156.5 94.9 156.0 93.4 155.5 92.0 155.0 90.5 154.4 89.0 153.9 87.5 153.3 86.0 152.7 84.5 152.1 83.0 151.5 81.5 151.0 80.2 150.5 79.0 149.9 77.5 149.2 76.0 148.5 74.5 148.0 73.3 147.4 72.0 146.6 70.5 146.0 69.3 145.3 68.0 144.5 66.5 144.0 65.5 143.1 64.0 142.5 62.9 141.6 61.5 141.0 60.5 140.0 59.0 139.3 58.0 138.5 56.8 137.6 55.5 136.8 54.5 136.0 53.4 135.0 52.1 134.1 51.0 133.2 50.0 132.4 49.0 131.5 48.0 130.5 46.9 129.5 45.9 128.5 44.8 127.5 43.9 126.5 42.9 125.5 42.0 124.4 41.0 123.3 40.0 122.1 39.0 121.0 38.1 120.0 37.3 118.9 36.5 117.6 35.5 116.5 34.7 115.4 34.0 114.0 33.1 113.0 32.4 111.5 31.5 110.5 31.0 109.0 30.1 107.7 29.5 106.5 28.9 105.0 28.2 103.5 27.6 102.1 27.0 101.0 26.5 99.5 25.9 98.0 25.2 96.6 24.5 95.5 24.0 94.0 23.1 93.0 22.5 91.8 21.5 90.8 20.5 89.8 19.5 88.9 18.5 88.0 17.4 87.2 16.5M171.6 145.0 171.4 143.5 171.2 141.5 171.0 140.0 170.7 138.0 170.5 136.5 170.2 134.5 170.0 133.0 169.7 131.0 169.4 129.5 169.1 127.5 168.8 126.0 168.5 124.1 168.2 122.5 168.0 121.0 167.6 119.0 167.3 117.5 167.0 115.7 166.7 114.0 166.4 112.5 166.0 110.8 165.6 109.0 165.3 107.5 164.9 106.0 164.5 104.4 164.0 102.5 163.6 101.0 163.2 99.5 162.8 98.0 162.4 96.5 161.9 95.0 161.5 93.5 161.0 92.0 160.5 90.5 160.0 89.0 159.5 87.5 159.0 86.0 158.4 84.5 157.9 83.0 157.3 81.5 156.7 80.0 156.1 78.5 155.5 77.0 155.0 75.7 154.5 74.5 153.9 73.0 153.2 71.5 152.5 70.0 152.0 68.8 151.4 67.5 150.7 66.0 150.0 64.5 149.5 63.5 148.8 62.0 148.0 60.5 147.4 59.5 146.6 58.0 146.0 56.9 145.2 55.5 144.5 54.4 143.6 53.0 143.0 52.0 142.0 50.5 141.3 49.5 140.5 48.4 139.5 47.0 138.7 46.0 137.9 45.0 137.0 43.8 136.0 42.6 135.0 41.5 134.2 40.5 133.3 39.5 132.3 38.5 131.4 37.5 130.4 36.5 129.4 35.5 128.3 34.5 127.3 33.5 126.2 32.5 125.1 31.5 124.0 30.6 123.0 29.8 122.0 28.9 120.8 28.0 119.5 27.0 118.5 26.2 117.5 25.5 116.0 24.5 115.0 23.8 113.8 23.0 112.5 22.2 111.3 21.5 110.0 20.8 108.5 20.0 107.5 19.5 106.0 18.8 104.5 18.1 103.1 17.5 101.9 17.0 100.5 16.4 99.0 15.7 97.5 15.0 96.5 14.5 95.0 13.7 93.8 13.0 92.5 12.0 91.5 11.1 90.5 10.1 89.5 9.0 88.7 8.0 87.8 7.0 87.4 6.5M175.3 145.0 175.1 143.0 175.0 141.5 174.7 139.5 174.5 137.5 174.4 136.0 174.1 134.0 173.9 132.5 173.7 130.5 173.5 129.0 173.2 127.0 173.0 125.3 172.7 123.5 172.5 121.7 172.3 120.0 172.0 118.0 171.8 116.5 171.5 114.7 171.2 113.0 171.0 111.5 170.6 109.5 170.3 108.0 170.0 106.3 169.6 104.5 169.3 103.0 169.0 101.5 168.5 99.5 168.2 98.0 167.8 96.5 167.4 95.0 167.0 93.4 166.5 91.6 166.0 90.0 165.6 88.5 165.1 87.0 164.7 85.5 164.2 84.0 163.7 82.5 163.2 81.0 162.6 79.5 162.1 78.0 161.5 76.5 161.0 75.1 160.5 73.8 160.0 72.5 159.4 71.0 158.7 69.5 158.1 68.0 157.5 66.7 157.0 65.5 156.3 64.0 155.6 62.5 155.0 61.2 154.4 60.0 153.7 58.5 153.0 57.2 152.4 56.0 151.6 54.5 151.0 53.3 150.3 52.0 149.5 50.6 148.9 49.5 148.0 48.0 147.4 47.0 146.5 45.6 145.8 44.5 145.0 43.3 144.1 42.0 143.4 41.0 142.5 39.8 141.5 38.5 140.8 37.5 140.0 36.5 139.0 35.3 138.0 34.2 137.0 33.0 136.1 32.0 135.2 31.0 134.2 30.0 133.3 29.0 132.3 28.0 131.3 27.0 130.2 26.0 129.2 25.0 128.1 24.0 127.0 23.0 126.0 22.1 125.0 21.3 124.0 20.4 122.8 19.5 121.6 18.5 120.5 17.7 119.5 16.9 118.3 16.0 117.0 15.1 116.0 14.4 114.7 13.5 113.5 12.7 112.3 12.0 111.0 11.2 109.7 10.5 108.5 9.9 107.0 9.1 105.7 8.5 104.5 8.0 103.0 7.3 101.5 6.7 100.0 6.0 98.9 5.5 97.5 4.8 96.0 4.1 94.9 3.5 93.5 2.6 92.5 1.8 91.5 0.9M179.0 145.3 178.7 143.5 178.7 141.5 178.5 139.5 178.4 138.0 178.2 136.0 178.1 134.0 178.0 132.5 177.8 130.5 177.6 128.5 177.5 127.0 177.2 125.0 177.0 123.0 176.9 121.5 176.7 119.5 176.5 117.5 176.4 116.0 176.1 114.0 175.9 112.5 175.7 110.5 175.5 109.0 175.2 107.0 175.0 105.5 174.6 103.5 174.4 102.0 174.0 100.0 173.7 98.5 173.4 97.0 173.0 95.0 172.7 93.5 172.3 92.0 172.0 90.5 171.5 88.5 171.1 87.0 170.7 85.5 170.3 84.0 169.8 82.5 169.4 81.0 168.9 79.5 168.5 78.0 168.0 76.5 167.4 75.0 166.9 73.5 166.4 72.0 165.8 70.5 165.2 69.0 164.6 67.5 164.0 66.0 163.5 64.7 163.0 63.5 162.3 62.0 161.7 60.5 161.0 59.0 160.5 58.0 159.8 56.5 159.1 55.0 158.5 53.9 157.8 52.5 157.0 51.0 156.5 50.0 155.7 48.5 155.0 47.2 154.3 46.0 153.5 44.6 152.9 43.5 152.0 42.0 151.4 41.0 150.5 39.5 149.8 38.5 149.0 37.2 148.2 36.0 147.5 35.0 146.5 33.6 145.7 32.5 144.9 31.5 144.0 30.3 143.0 29.0 142.1 28.0 141.3 27.0 140.4 26.0 139.5 24.9 138.5 23.8 137.5 22.8 136.5 21.7 135.5 20.7 134.5 19.7 133.5 18.7 132.5 17.8 131.5 16.8 130.5 15.9 129.5 15.0 128.4 14.0 127.3 13.0 126.1 12.0 125.0 11.0 124.0 10.2 123.0 9.4 121.9 8.5 120.6 7.5 119.5 6.7 118.5 5.9 117.2 5.0 116.0 4.1 115.0 3.5 113.5 2.5 112.5 1.9 111.0 1.0 110.5 0.7M182.5 145.0 182.3 143.5 182.3 141.5 182.2 139.5 182.2 137.5 182.1 135.5 182.0 134.0 181.9 132.0 181.8 130.0 181.7 128.0 181.6 126.0 181.5 124.5 181.4 122.5 181.3 120.5 181.2 118.5 181.0 116.5 180.9 115.0 180.8 113.0 180.6 111.0 180.5 109.5 180.3 107.5 180.1 105.5 179.9 104.0 179.7 102.0 179.5 100.5 179.2 98.5 179.0 97.0 178.6 95.0 178.4 93.5 178.0 91.5 177.7 90.0 177.4 88.5 177.0 86.5 176.7 85.0 176.3 83.5 176.0 82.0 175.5 80.2 175.0 78.5 174.6 77.0 174.2 75.5 173.7 74.0 173.3 72.5 172.8 71.0 172.3 69.5 171.8 68.0 171.2 66.5 170.7 65.0 170.1 63.5 169.5 62.0 169.0 60.6 168.5 59.4 167.9 58.0 167.2 56.5 166.6 55.0 166.0 53.7 165.4 52.5 164.7 51.0 164.0 49.5 163.5 48.5 162.7 47.0 162.0 45.6 161.4 44.5 160.6 43.0 160.0 41.9 159.2 40.5 158.5 39.3 157.7 38.0 157.0 36.8 156.2 35.5 155.5 34.4 154.6 33.0 154.0 32.0 153.0 30.5 152.3 29.5 151.5 28.3 150.5 27.0 149.8 26.0 149.0 24.9 148.0 23.6 147.1 22.5 146.3 21.5 145.4 20.5 144.5 19.4 143.5 18.3 142.5 17.2 141.5 16.1 140.5 15.1 139.5 14.1 138.5 13.0 137.5 12.1 136.5 11.1 135.5 10.1 134.5 9.2 133.5 8.2 132.5 7.3 131.5 6.4 130.5 5.5 129.4 4.5 128.2 3.5 127.1 2.5 126.0 1.6 125.0 0.8M186.0 145.0 185.8 143.5 185.9 141.5 185.9 139.5 185.9 137.5 185.9 135.5 185.9 133.5 185.9 131.5 185.8 129.5 185.8 127.5 185.8 125.5 185.7 123.5 185.7 121.5 185.7 119.5 185.7 117.5 185.6 115.5 185.6 113.5 185.5 111.5 185.4 110.0 185.3 108.0 185.2 106.0 185.1 104.0 185.0 102.5 184.8 100.5 184.6 98.5 184.5 97.0 184.2 95.0 184.0 93.1 183.8 91.5 183.5 89.6 183.3 88.0 183.0 86.4 182.7 84.5 182.4 83.0 182.0 81.1 181.7 79.5 181.3 78.0 181.0 76.5 180.5 74.5 180.1 73.0 179.7 71.5 179.3 70.0 178.9 68.5 178.4 67.0 177.9 65.5 177.5 64.0 177.0 62.5 176.4 61.0 175.9 59.5 175.3 58.0 174.8 56.5 174.2 55.0 173.6 53.5 173.0 52.1 172.5 51.0 171.9 49.5 171.2 48.0 170.5 46.5 170.0 45.5 169.3 44.0 168.5 42.5 168.0 41.4 167.3 40.0 166.5 38.6 165.9 37.5 165.1 36.0 164.5 35.0 163.7 33.5 163.0 32.4 162.2 31.0 161.5 29.9 160.6 28.5 160.0 27.5 159.0 26.0 158.3 25.0 157.5 23.8 156.6 22.5 155.9 21.5 155.0 20.3 154.1 19.0 153.3 18.0 152.5 17.0 151.5 15.8 150.5 14.6 149.5 13.5 148.6 12.5 147.7 11.5 146.8 10.5 145.8 9.5 144.9 8.5 143.9 7.5 142.9 6.5 141.8 5.5 140.8 4.5 139.7 3.5 138.7 2.5 137.6 1.5 136.5 0.5M189.5 145.1 189.3 143.5 189.5 141.5 189.5 140.0 189.6 138.0 189.7 136.0 189.7 134.0 189.8 132.0 189.9 130.0 189.9 128.0 190.0 126.0 190.0 124.5 190.1 122.5 190.1 120.5 190.2 118.5 190.2 116.5 190.3 114.5 190.3 112.5 190.3 110.5 190.3 108.5 190.3 106.5 190.2 104.5 190.2 102.5 190.1 100.5 190.0 98.5 189.9 97.0 189.8 95.0 189.6 93.0 189.5 91.5 189.3 89.5 189.1 87.5 188.9 86.0 188.6 84.0 188.4 82.5 188.1 80.5 187.8 79.0 187.5 77.3 187.2 75.5 186.8 74.0 186.5 72.4 186.1 70.5 185.7 69.0 185.3 67.5 184.9 66.0 184.5 64.3 184.0 62.6 183.5 61.0 183.1 59.5 182.6 58.0 182.1 56.5 181.6 55.0 181.0 53.5 180.5 52.0 180.0 50.7 179.5 49.4 179.0 48.0 178.3 46.5 177.7 45.0 177.1 43.5 176.5 42.2 175.9 41.0 175.2 39.5 174.5 38.0 174.0 36.9 173.3 35.5 172.5 34.0 172.0 33.0 171.2 31.5 170.5 30.2 169.8 29.0 169.0 27.6 168.4 26.5 167.5 25.0 166.9 24.0 166.0 22.5 165.4 21.5 164.5 20.1 163.8 19.0 163.0 17.9 162.1 16.5 161.4 15.5 160.5 14.3 159.6 13.0 158.8 12.0 158.0 10.9 157.0 9.7 156.0 8.5 155.2 7.5 154.3 6.5 153.4 5.5 152.5 4.5 151.5 3.5 150.5 2.5 149.4 1.5 148.5 0.6M193.0 145.1 192.9 143.5 193.0 142.0 193.2 140.0 193.3 138.0 193.5 136.0 193.6 134.5 193.8 132.5 193.9 130.5 194.0 129.0 194.1 127.0 194.3 125.0 194.4 123.0 194.5 121.4 194.6 119.5 194.8 117.5 194.9 115.5 195.0 113.7 195.1 112.0 195.2 110.0 195.2 108.0 195.3 106.0 195.3 104.0 195.3 102.0 195.3 100.0 195.3 98.0 195.3 96.0 195.2 94.0 195.1 92.0 195.0 90.4 194.9 88.5 194.7 86.5 194.5 84.5 194.3 83.0 194.1 81.0 193.9 79.5 193.6 77.5 193.4 76.0 193.1 74.0 192.8 72.5 192.5 70.8 192.1 69.0 191.8 67.5 191.5 66.0 191.0 64.0 190.7 62.5 190.3 61.0 189.9 59.5 189.5 58.0 189.0 56.4 188.5 54.7 188.0 53.1 187.5 51.5 187.0 50.0 186.5 48.6 186.0 47.2 185.5 45.8 185.0 44.5 184.4 43.0 183.8 41.5 183.2 40.0 182.6 38.5 182.0 37.1 181.5 36.0 180.8 34.5 180.1 33.0 179.5 31.6 179.0 30.5 178.2 29.0 177.5 27.6 176.9 26.5 176.2 25.0 175.5 23.8 174.8 22.5 174.0 21.0 173.4 20.0 172.6 18.5 172.0 17.5 171.1 16.0 170.5 15.0 169.5 13.5 168.9 12.5 168.0 11.1 167.3 10.0 166.5 8.8 165.6 7.5 164.9 6.5 164.0 5.3 163.1 4.0 162.3 3.0 161.5 2.0 160.5 0.7M196.6 145.0 196.4 143.5 196.7 142.0 196.9 140.0 197.1 138.5 197.3 136.5 197.5 134.8 197.7 133.0 197.9 131.0 198.1 129.5 198.3 127.5 198.5 125.6 198.7 124.0 198.9 122.0 199.0 120.5 199.3 118.5 199.5 116.5 199.6 115.0 199.8 113.0 199.9 111.0 200.0 109.5 200.1 107.5 200.2 105.5 200.3 103.5 200.3 101.5 200.4 99.5 200.4 97.5 200.4 95.5 200.4 93.5 200.3 91.5 200.2 89.5 200.1 87.5 200.0 85.5 199.9 84.0 199.7 82.0 199.6 80.0 199.4 78.5 199.2 76.5 199.0 75.0 198.7 73.0 198.5 71.5 198.2 69.5 197.9 68.0 197.6 66.0 197.3 64.5 197.0 63.0 196.6 61.0 196.2 59.5 195.9 58.0 195.5 56.5 195.0 54.6 194.6 53.0 194.1 51.5 193.7 50.0 193.2 48.5 192.8 47.0 192.3 45.5 191.8 44.0 191.3 42.5 190.7 41.0 190.2 39.5 189.6 38.0 189.0 36.5 188.5 35.1 188.0 33.9 187.4 32.5 186.8 31.0 186.1 29.5 185.5 28.1 185.0 27.0 184.3 25.5 183.6 24.0 183.0 22.7 182.4 21.5 181.6 20.0 181.0 18.7 180.4 17.5 179.6 16.0 179.0 15.0 178.2 13.5 177.5 12.3 176.8 11.0 176.0 9.6 175.3 8.5 174.5 7.1 173.8 6.0 173.0 4.6 172.3 3.5 171.5 2.3 170.7 1.0 170.5 0.7M200.3 145.0 200.3 143.0 200.6 141.5 200.9 139.5 201.1 138.0 201.5 136.0 201.7 134.5 202.0 132.7 202.3 131.0 202.5 129.4 202.8 127.5 203.0 125.8 203.2 124.0 203.5 122.0 203.7 120.5 204.0 118.5 204.1 117.0 204.4 115.0 204.5 113.5 204.7 111.5 204.8 109.5 204.9 107.5 205.0 106.0 205.1 104.0 205.2 102.0 205.2 100.0 205.2 98.0 205.2 96.0 205.2 94.0 205.2 92.0 205.1 90.0 205.1 88.0 205.0 86.5 204.9 84.5 204.8 82.5 204.6 80.5 204.5 79.0 204.3 77.0 204.1 75.0 203.9 73.5 203.7 71.5 203.5 69.9 203.2 68.0 203.0 66.4 202.7 64.5 202.4 63.0 202.1 61.0 201.8 59.5 201.5 58.0 201.1 56.0 200.8 54.5 200.4 53.0 200.0 51.2 199.6 49.5 199.2 48.0 198.8 46.5 198.4 45.0 197.9 43.5 197.5 42.0 197.0 40.5 196.5 38.9 196.0 37.4 195.5 36.0 195.0 34.5 194.4 33.0 193.9 31.5 193.3 30.0 192.7 28.5 192.1 27.0 191.5 25.6 191.0 24.4 190.4 23.0 189.7 21.5 189.1 20.0 188.5 18.7 187.9 17.5 187.2 16.0 186.5 14.5 186.0 13.5 185.2 12.0 184.5 10.6 183.9 9.5 183.2 8.0 182.5 6.8 181.8 5.5 181.0 4.0 180.4 3.0 179.6 1.5 179.3 1.0M204.5 145.3 204.4 143.5 204.8 142.0 205.1 140.5 205.5 138.5 205.8 137.0 206.1 135.5 206.5 133.5 206.8 132.0 207.0 130.5 207.3 128.5 207.5 127.0 207.8 125.0 208.0 123.4 208.2 121.5 208.5 119.5 208.6 118.0 208.8 116.0 209.0 114.0 209.1 112.5 209.2 110.5 209.3 108.5 209.4 106.5 209.4 104.5 209.5 102.5 209.5 101.0 209.5 99.0 209.5 97.0 209.5 95.1 209.5 93.5 209.4 91.5 209.4 89.5 209.3 87.5 209.2 85.5 209.1 83.5 209.0 81.5 208.9 80.0 208.8 78.0 208.6 76.0 208.5 74.5 208.3 72.5 208.1 70.5 207.9 69.0 207.7 67.0 207.5 65.5 207.2 63.5 207.0 62.0 206.7 60.0 206.4 58.5 206.1 56.5 205.8 55.0 205.5 53.5 205.1 51.5 204.8 50.0 204.5 48.5 204.0 46.5 203.7 45.0 203.3 43.5 202.9 42.0 202.5 40.3 202.0 38.5 201.6 37.0 201.1 35.5 200.7 34.0 200.2 32.5 199.8 31.0 199.3 29.5 198.7 28.0 198.2 26.5 197.7 25.0 197.1 23.5 196.5 22.0 196.0 20.6 195.5 19.4 194.9 18.0 194.3 16.5 193.6 15.0 193.0 13.6 192.5 12.5 191.8 11.0 191.1 9.5 190.5 8.2 189.9 7.0 189.2 5.5 188.5 4.1 188.0 3.0 187.2 1.5 187.0 1.0M209.1 145.0 209.0 143.6 209.4 142.0 209.7 140.5 210.0 139.0 210.4 137.0 210.6 135.5 210.9 133.5 211.1 132.0 211.3 130.0 211.5 128.5 211.7 126.5 211.9 124.5 212.0 122.7 212.1 121.0 212.3 119.0 212.4 117.0 212.5 115.5 212.6 113.5 212.7 111.5 212.8 109.5 212.8 107.5 212.9 105.5 212.9 103.5 212.9 101.5 212.9 99.5 212.9 97.5 212.9 95.5 212.8 93.5 212.8 91.5 212.7 89.5 212.7 87.5 212.6 85.5 212.5 83.5 212.4 82.0 212.3 80.0 212.2 78.0 212.0 76.0 211.9 74.5 211.8 72.5 211.6 70.5 211.4 69.0 211.2 67.0 211.0 65.0 210.8 63.5 210.6 61.5 210.4 60.0 210.2 58.0 209.9 56.5 209.7 54.5 209.4 53.0 209.1 51.0 208.9 49.5 208.5 47.5 208.2 46.0 207.9 44.5 207.5 42.5 207.2 41.0 206.9 39.5 206.5 37.7 206.1 36.0 205.7 34.5 205.3 33.0 204.9 31.5 204.5 29.9 204.0 28.1 203.5 26.5 203.1 25.0 202.6 23.5 202.1 22.0 201.6 20.5 201.1 19.0 200.6 17.5 200.1 16.0 199.5 14.5 199.0 13.1 198.5 11.9 198.0 10.5 197.3 9.0 196.7 7.5 196.1 6.0 195.5 4.7 195.0 3.5 194.3 2.0 193.8 1.0M213.2 145.0 213.0 143.9 213.4 142.0 213.6 140.5 213.8 138.5 214.0 137.0 214.2 135.0 214.4 133.0 214.6 131.5 214.7 129.5 214.9 127.5 215.0 125.8 215.1 124.0 215.2 122.0 215.4 120.0 215.5 118.0 215.6 116.5 215.7 114.5 215.8 112.5 215.8 110.5 215.9 108.5 215.9 106.5 215.9 104.5 216.0 102.5 216.0 100.5 216.0 98.5 215.9 96.5 215.9 94.5 215.9 92.5 215.8 90.5 215.8 88.5 215.7 86.5 215.6 84.5 215.5 82.5 215.4 81.0 215.3 79.0 215.2 77.0 215.0 75.0 214.9 73.5 214.8 71.5 214.6 69.5 214.4 68.0 214.2 66.0 214.0 64.0 213.9 62.5 213.6 60.5 213.4 59.0 213.2 57.0 213.0 55.5 212.7 53.5 212.5 51.9 212.2 50.0 212.0 48.5 211.7 46.5 211.5 45.0 211.1 43.0 210.9 41.5 210.5 39.5 210.2 38.0 210.0 36.5 209.6 34.5 209.3 33.0 209.0 31.5 208.5 29.5 208.2 28.0 207.8 26.5 207.5 25.0 207.0 23.1 206.6 21.5 206.2 20.0 205.8 18.5 205.3 17.0 204.9 15.5 204.4 14.0 203.9 12.5 203.4 11.0 202.9 9.5 202.4 8.0 201.9 6.5 201.3 5.0 200.8 3.5 200.2 2.0 199.8 1.0M216.5 145.2 216.4 143.5 216.6 142.0 216.8 140.0 217.0 138.5 217.2 136.5 217.4 134.5 217.5 133.0 217.7 131.0 217.8 129.0 218.0 127.0 218.1 125.5 218.2 123.5 218.3 121.5 218.4 119.5 218.5 118.0 218.6 116.0 218.7 114.0 218.8 112.0 218.8 110.0 218.9 108.0 218.9 106.0 218.9 104.0 218.9 102.0 218.9 100.0 218.9 98.0 218.9 96.0 218.9 94.0 218.8 92.0 218.8 90.0 218.7 88.0 218.6 86.0 218.6 84.0 218.5 82.5 218.4 80.5 218.3 78.5 218.1 76.5 218.0 74.9 217.9 73.0 217.7 71.0 217.5 69.0 217.4 67.5 217.2 65.5 217.0 63.8 216.8 62.0 216.6 60.0 216.4 58.5 216.1 56.5 216.0 55.0 215.7 53.0 215.5 51.5 215.2 49.5 215.0 48.0 214.7 46.0 214.4 44.5 214.1 42.5 213.9 41.0 213.5 39.0 213.3 37.5 213.0 35.9 212.7 34.0 212.4 32.5 212.0 30.5 211.7 29.0 211.4 27.5 211.0 25.5 210.7 24.0 210.4 22.5 210.0 20.6 209.7 19.0 209.3 17.5 209.0 16.0 208.5 14.1 208.1 12.5 207.7 11.0 207.3 9.5 206.9 8.0 206.5 6.5 206.0 4.9 205.5 3.3 205.0 1.7 204.8 1.0M213.8 24.0 213.5 22.5 213.1 20.5 212.8 19.0 212.5 17.5 212.1 15.5 211.7 14.0 211.4 12.5 211.0 10.7 210.6 9.0 210.3 7.5 209.9 6.0 209.5 4.2 209.1 2.5 208.7 1.0M213.5 8.2 213.1 6.5 212.8 5.0 212.5 3.5 212.0 1.5 211.9 1.0" stroke-width="1.05" stroke="#161616"/><path d="M86.0 144.0 86.4 140.6 86.6 137.3 86.9 133.9 87.2 130.5 87.4 127.1 87.6 123.8 87.8 120.4 88.0 117.0 88.2 113.7 88.4 110.3 88.5 106.9 88.6 103.5 88.7 100.2 88.8 96.8 88.9 93.4 89.0 90.1 89.0 86.7 89.1 83.3 89.2 79.9 89.2 76.6 89.3 73.2 89.3 69.8 89.4 66.4 89.5 63.1 89.5 59.7 89.6 56.3 89.7 53.0 89.7 49.6 89.8 46.2 89.8 42.8 89.9 39.5 90.0 36.1 90.0 32.7 90.1 29.4 90.1 26.0 90.2 22.6 90.3 19.2 90.3 15.9 90.4 12.5 89.7 9.0 92.2 4.5M214.8 144.0 214.4 140.6 214.2 137.3 213.9 133.9 213.6 130.5 213.4 127.1 213.2 123.8 213.0 120.4 212.8 117.0 212.6 113.7 212.4 110.3 212.3 106.9 212.2 103.5 212.1 100.2 212.0 96.8 211.9 93.4 211.8 90.1 211.8 86.7 211.7 83.3 211.6 79.9 211.6 76.6 211.5 73.2 211.5 69.8 211.4 66.4 211.3 63.1 211.3 59.7 211.2 56.3 211.1 53.0 211.1 49.6 211.0 46.2 211.0 42.8 210.9 39.5 210.8 36.1 210.8 32.7 210.7 29.4 210.7 26.0 210.6 22.6 210.5 19.2 210.5 15.9 210.4 12.5 211.1 9.0 208.6 4.5" stroke-width="0.8" stroke="#222"/><path d="M87.7 144.0 88.1 140.6 88.3 137.3 88.6 133.9 88.9 130.5 89.1 127.1 89.3 123.8 89.5 120.4 89.7 117.0 89.9 113.7 90.1 110.3 90.2 106.9 90.3 103.5 90.4 100.2 90.5 96.8 90.6 93.4 90.7 90.1 90.7 86.7 90.8 83.3 90.9 79.9 90.9 76.6 91.0 73.2 91.0 69.8 91.1 66.4 91.2 63.1 91.2 59.7 91.3 56.3 91.4 53.0 91.4 49.6 91.5 46.2 91.5 42.8 91.6 39.5 91.7 36.1 91.7 32.7 91.8 29.4 91.8 26.0 91.9 22.6 92.0 19.2 92.0 15.9 92.1 12.5 90.7 9.0 92.7 4.5M213.1 144.0 212.7 140.6 212.5 137.3 212.2 133.9 211.9 130.5 211.7 127.1 211.5 123.8 211.3 120.4 211.1 117.0 210.9 113.7 210.7 110.3 210.6 106.9 210.5 103.5 210.4 100.2 210.3 96.8 210.2 93.4 210.1 90.1 210.1 86.7 210.0 83.3 209.9 79.9 209.9 76.6 209.8 73.2 209.8 69.8 209.7 66.4 209.6 63.1 209.6 59.7 209.5 56.3 209.4 53.0 209.4 49.6 209.3 46.2 209.3 42.8 209.2 39.5 209.1 36.1 209.1 32.7 209.0 29.4 209.0 26.0 208.9 22.6 208.8 19.2 208.8 15.9 208.7 12.5 210.1 9.0 208.1 4.5" stroke-width="0.7" stroke="#333"/></g>
<path d="M84.3 144.0 84.7 140.6 84.9 137.3 85.2 133.9 85.5 130.5 85.7 127.1 85.9 123.8 86.1 120.4 86.3 117.0 86.5 113.7 86.7 110.3 86.8 106.9 86.9 103.5 87.0 100.2 87.1 96.8 87.2 93.4 87.3 90.1 87.3 86.7 87.4 83.3 87.5 79.9 87.5 76.6 87.6 73.2 87.6 69.8 87.7 66.4 87.8 63.1 87.8 59.7 87.9 56.3 88.0 53.0 88.0 49.6 88.1 46.2 88.1 42.8 88.2 39.5 88.3 36.1 88.3 32.7 88.4 29.4 88.4 26.0 88.5 22.6 88.6 19.2 88.6 15.9 88.7 12.5 88.7 12.1 88.8 10.4 89.3 8.8 90.0 7.3 90.9 5.9 92.1 4.7 93.5 3.8 95.0 3.1 96.6 2.6 98.3 2.5 202.5 2.5 204.2 2.6 205.8 3.1 207.3 3.8 208.7 4.7 209.9 5.9 210.8 7.3 211.5 8.8 212.0 10.4 212.1 12.1 212.1 12.5 212.2 15.9 212.2 19.2 212.3 22.6 212.4 26.0 212.4 29.4 212.5 32.7 212.5 36.1 212.6 39.5 212.7 42.8 212.7 46.2 212.8 49.6 212.8 53.0 212.9 56.3 213.0 59.7 213.0 63.1 213.1 66.4 213.2 69.8 213.2 73.2 213.3 76.6 213.3 79.9 213.4 83.3 213.5 86.7 213.5 90.1 213.6 93.4 213.7 96.8 213.8 100.2 213.9 103.5 214.0 106.9 214.1 110.3 214.3 113.7 214.5 117.0 214.7 120.4 214.9 123.8 215.1 127.1 215.3 130.5 215.6 133.9 215.9 137.3 216.1 140.6 216.5 144.0" stroke-width="1.5"/>
<rect x="80.4" y="144.2" width="139.8" height="34.6" rx="4" fill="#fff" stroke-width="1.4"/>
<path d="M81.2 148.8H219.4M81.2 175.1H219.4" stroke-width="0.8" stroke="#333"/>
<circle cx="150.5" cy="162" r="7.8" stroke-width="1"/>
<path d="M85 180.6H215.2" stroke-width="0.7" stroke="#333"/>
<path d="M84.8 179L88.2 388M215.4 179L211.9 388" stroke-width="1.2"/>
<!-- ============ mic body bottom ============ -->
<g stroke-width="0.9">
<path d="M89.5 440.8H211.5M91.6 459.6H209.4M101.5 488.5H199.5M99.5 492.1H201.5M150.4 488.5V492.1"/>
<path d="M88.9 402L89.5 441Q91 458 93.9 470Q96.5 481 101.5 488.5M212.1 402L211.5 441Q210 458 207.1 470Q204.5 481 199.5 488.5" stroke-width="1.2"/>
</g>
<rect x="98" y="495" width="105" height="4.9" fill="#111" stroke="none"/>
<!-- lip + knurled ring -->
<path d="M94 501.8H207" stroke-width="0.8"/>
<rect x="107.4" y="500.4" width="86.2" height="10.8" fill="#fff" stroke-width="1"/>
<path d="M92.7 512H208.3V524.5Q208.3 528.8 204 528.8H97Q92.7 528.8 92.7 524.5Z" fill="#fff" stroke-width="1.3"/>
<path d="M98.1 512V527.4M102.0 512V527.4M105.9 512V527.4M109.8 512V527.4M113.8 512V527.4M117.8 512V527.4M121.8 512V527.4M125.8 512V527.4M129.9 512V527.4M133.9 512V527.4M138.0 512V527.4M142.1 512V527.4M146.2 512V527.4M150.3 512V527.4M154.4 512V527.4M158.5 512V527.4M162.6 512V527.4M166.7 512V527.4M170.7 512V527.4M174.8 512V527.4M178.8 512V527.4M182.8 512V527.4M186.8 512V527.4M190.8 512V527.4M194.7 512V527.4M198.6 512V527.4M202.5 512V527.4" stroke-width="1" stroke="#2a2a2a" stroke-linecap="butt"/>
<path d="M94 527.4H206.6" stroke-width="0.7"/>

<!-- ============ left half of shock mount (mirrored for right) ============ -->
<defs>
<g id="mh">
  <!-- rear bar stub -->
  <rect x="2.8" y="388" width="40" height="14.2" fill="#fff" stroke-width="1.65"/>
  <!-- rubber bumper loop -->
  <path d="M47 317H51.5Q63.8 317 63.8 329.5V454.5Q63.8 468.4 50 468.4H47Z" fill="#fff" stroke-width="1.6"/>
  <!-- notches on outer edge -->
  <path d="M32.9 343L29.9 351.5L34.3 353Z" fill="#fff" stroke-width="1.1"/>
  <path d="M35.7 432L30 433.2L32.5 443.3Z" fill="#fff" stroke-width="1.1"/>
  <!-- arm -->
  <path d="M17.9 230.8L27.5 228.5L35.8 228.9L55.3 367L55.1 404L53.9 425L51.4 450L47 480L36.8 546L37 561H30.5L18 559.2L36.9 422.6L36.2 367Z" fill="#fff" stroke-width="1.75"/>
  <path d="M25.8 230.8L44.7 367L44.5 422.6L26.4 560.4" stroke-width="0.9"/>
  <path d="M36.2 367H44.7M36.9 422.6H44.5" stroke-width="0.8"/>
  <path d="M30.4 229V241.2L36.8 242.4" stroke-width="1.3"/>
  <path d="M17.9 230.8L27.5 228.5L35.8 228.9" stroke-width="2.2"/>
  <path d="M31 549V561M37 548V561" stroke-width="0.9"/>
  <path d="M49.8 319L54 341.5L56 358M54.6 430L52 452L49.6 466" stroke-width="0.9"/>
  <!-- cradle leg (inner) -->
  <path d="M71.3 402L80.6 500Q81.6 508.4 88.6 509.3L107.4 509.6V500L93.8 500L85.7 402Z" fill="#fff" stroke="none"/>
  <path d="M71.3 402L80.6 500Q81.6 508.6 88.6 509.4L95 511" stroke-width="1.7"/>
  <path d="M76.3 402L83.4 497Q84.2 505.8 92 507.6L107 508" stroke-width="0.7"/>
  <path d="M80.7 402L87.3 496Q87.8 503 95 504.5L107 504.8" stroke-width="0.7"/>
  <path d="M85.7 402L93.8 500" stroke-width="1.65"/>
</g>
<path id="vbu" d="M33.3 234L132.6 325.3Q137 329.3 142 329.3H150.5"/>
<path id="vbl" d="M33.8 551.6L132 461.1Q136.5 456.9 141.5 456.9H150.5"/>
</defs>

<use href="#mh"/>
<use href="#mh" transform="translate(301 0) scale(-1 1)"/>

<!-- front bar -->
<rect x="50" y="388" width="200.6" height="14.2" fill="#fff" stroke-width="1.65"/>

<!-- V bands: outline then white core then highlight line -->
<g stroke-linecap="butt">
<use href="#vbu" stroke-width="7.9"/>
<use href="#vbu" transform="translate(301 0) scale(-1 1)" stroke-width="7.9"/>
<use href="#vbl" stroke-width="7.9"/>
<use href="#vbl" transform="translate(301 0) scale(-1 1)" stroke-width="7.9"/>
<use href="#vbu" stroke-width="4.9" stroke="#fff"/>
<use href="#vbu" transform="translate(301 0) scale(-1 1)" stroke-width="4.9" stroke="#fff"/>
<use href="#vbl" stroke-width="4.9" stroke="#fff"/>
<use href="#vbl" transform="translate(301 0) scale(-1 1)" stroke-width="4.9" stroke="#fff"/>
<use href="#vbu" stroke-width="0.6" transform="translate(-0.5 0.55)"/>
<use href="#vbu" stroke-width="0.6" transform="translate(301 0) scale(-1 1) translate(-0.5 0.55)"/>
<use href="#vbl" stroke-width="0.6" transform="translate(-0.6 -0.68)"/>
<use href="#vbl" stroke-width="0.6" transform="translate(301 0) scale(-1 1) translate(-0.6 -0.68)"/>
</g>

<!-- centre post -->
<g fill="#fff" stroke-width="1.5">
<rect x="146" y="350" width="9.2" height="38"/>
<rect x="146" y="402.2" width="9.2" height="30"/>
<rect x="145" y="317.8" width="11" height="35.5"/>
<rect x="145" y="431.5" width="11" height="36.3"/>
</g>
<path d="M145 351.8H156M145 433H156" stroke-width="0.7"/>
<path d="M145.3 327H155.7M145.3 458.6H155.7" stroke-width="0.6" stroke="#444"/>
<path d="M141.6 326.2V332.4M143.4 326.2V332.4M157.6 326.2V332.4M159.4 326.2V332.4M141.6 453.8V460M143.4 453.8V460M157.6 453.8V460M159.4 453.8V460" stroke-width="0.5" stroke="#444"/>
<!-- cable from mic to connector -->
<path d="M150.5 529V633.5H386.3V578" stroke-width="2" stroke-linecap="butt" stroke-linejoin="miter" stroke="#000"/>
<path d="M386.3 562L397.6 580.2H375.2Z" fill="#000" stroke="none"/>

<!-- connector detail -->
<circle cx="386.5" cy="494.3" r="66.8" stroke-width="1.6"/>
<circle cx="386.5" cy="494.3" r="60.3" stroke-width="0.85"/>
<rect x="358.1" y="457.3" width="57.6" height="16.3" rx="8.15" stroke-width="1.45" fill="#fff"/>
<rect x="365.3" y="463.45" width="43" height="4.1" rx="2.05" stroke-width="0.95"/>
<circle cx="359.7" cy="494.4" r="9.2" fill="#000" stroke="none"/>
<circle cx="413.8" cy="494.4" r="9.2" fill="#000" stroke="none"/>
<circle cx="386.5" cy="528.3" r="9.2" fill="#000" stroke="none"/>

<!-- dashed links -->
<path d="M387 457V142.9H499.5" stroke-width="1.5" stroke-dasharray="6.6 5.04" stroke-dashoffset="0.8" stroke-linecap="butt" stroke-linejoin="miter" stroke="#111"/>
<path d="M420 493H498" stroke-width="1.5" stroke-dasharray="6.6 5.1" stroke-linecap="butt" stroke="#111"/>

<!-- laptop -->
<rect x="530" y="65.3" width="165.5" height="115.5" rx="5.5" stroke-width="1.65"/>
<rect x="535.8" y="72.3" width="154" height="99.6" rx="5" stroke-width="1" stroke="#2a2a2a"/>
<path d="M531 181.3H694.5Q697 181.3 698.2 183.3L708.4 201.6Q712.2 208.3 704 208.3H521.5Q513.2 208.3 517.2 201.3L527.3 183.3Q528.5 181.3 531 181.3Z" stroke-width="1.65"/>
<path d="M547.5 185H679.5Q686 185 686 191.25Q686 197.5 679.5 197.5H542.2Q538.4 197.5 540.2 194L544.2 187Q545.3 185 547.5 185Z" fill="#000" stroke="none"/>

<!-- usb icon -->
<g stroke="#000" fill="none" stroke-linecap="butt">
<circle cx="588.9" cy="235.2" r="4.4" fill="#000" stroke="none"/>
<path d="M588.9 235.2H633" stroke-width="2.3"/>
<path d="M631.7 230L640.6 235.2L631.7 240.4Z" fill="#000" stroke="none"/>
<path d="M601.5 235.2C605 233 604 226.1 609.5 226.1H617" stroke-width="2.1"/>
<circle cx="617" cy="226.1" r="4.4" fill="#000" stroke="none"/>
<path d="M606.3 235.2C610 237.5 609.5 243.8 615 243.8H620" stroke-width="2.1"/>
<rect x="618.9" y="240" width="7.8" height="7.8" fill="#000" stroke="none"/>
</g>

<!-- labels -->
<g fill="#111" stroke="none" font-family="Liberation Sans, sans-serif" font-size="23" style="mix-blend-mode:multiply;isolation:isolate">
<text x="531.9" y="276.3" textLength="103.2" lengthAdjust="spacingAndGlyphs">DIGITAL</text>
<text x="640.9" y="276.3" textLength="52.4" lengthAdjust="spacingAndGlyphs" font-weight="bold" stroke="#111" stroke-width="0.45">USB</text>
<text x="527.6" y="600.6" font-size="23.6" textLength="115.3" lengthAdjust="spacingAndGlyphs">ANALOG</text>
<text x="647.3" y="600.6" font-size="23.6" textLength="52.3" lengthAdjust="spacingAndGlyphs" font-weight="bold" stroke="#111" stroke-width="0.45">XLR</text>
</g>

<!-- audio interface -->
<rect x="507.6" y="460.2" width="211" height="65" rx="4.5" stroke-width="1.5"/>
<circle cx="549.8" cy="492.2" r="19.6" stroke-width="1.5"/>
<circle cx="549.8" cy="492.2" r="17.4" stroke-width="0.7"/>
<circle cx="541.9" cy="492.2" r="2.4" fill="#000" stroke="none"/>
<circle cx="558.1" cy="492.2" r="2.4" fill="#000" stroke="none"/>
<circle cx="549.8" cy="503.5" r="2.4" fill="#000" stroke="none"/>
<circle cx="600.3" cy="491.3" r="13.6" stroke-width="1.4"/>
<path d="M592 483.8L597 488.6" stroke-width="1.3" stroke-linecap="butt"/>
<circle cx="643.1" cy="491.3" r="13.6" stroke-width="1.4"/>
<path d="M649.2 482.2L646 487.2" stroke-width="1.3" stroke-linecap="butt"/>
<circle cx="685.9" cy="491.3" r="9.3" stroke-width="1.5"/>
<circle cx="685.9" cy="491.3" r="6.6" stroke-width="0.9" stroke="#666"/>

<!-- xlr icon -->
<circle cx="612.3" cy="555" r="16.7" stroke-width="2.8" stroke="#000"/>
<circle cx="605.6" cy="553.6" r="3.3" fill="#000" stroke="none"/>
<circle cx="620" cy="553.6" r="3.3" fill="#000" stroke="none"/>
<circle cx="612.5" cy="563.3" r="3.3" fill="#000" stroke="none"/>
</svg>
</body></html>
